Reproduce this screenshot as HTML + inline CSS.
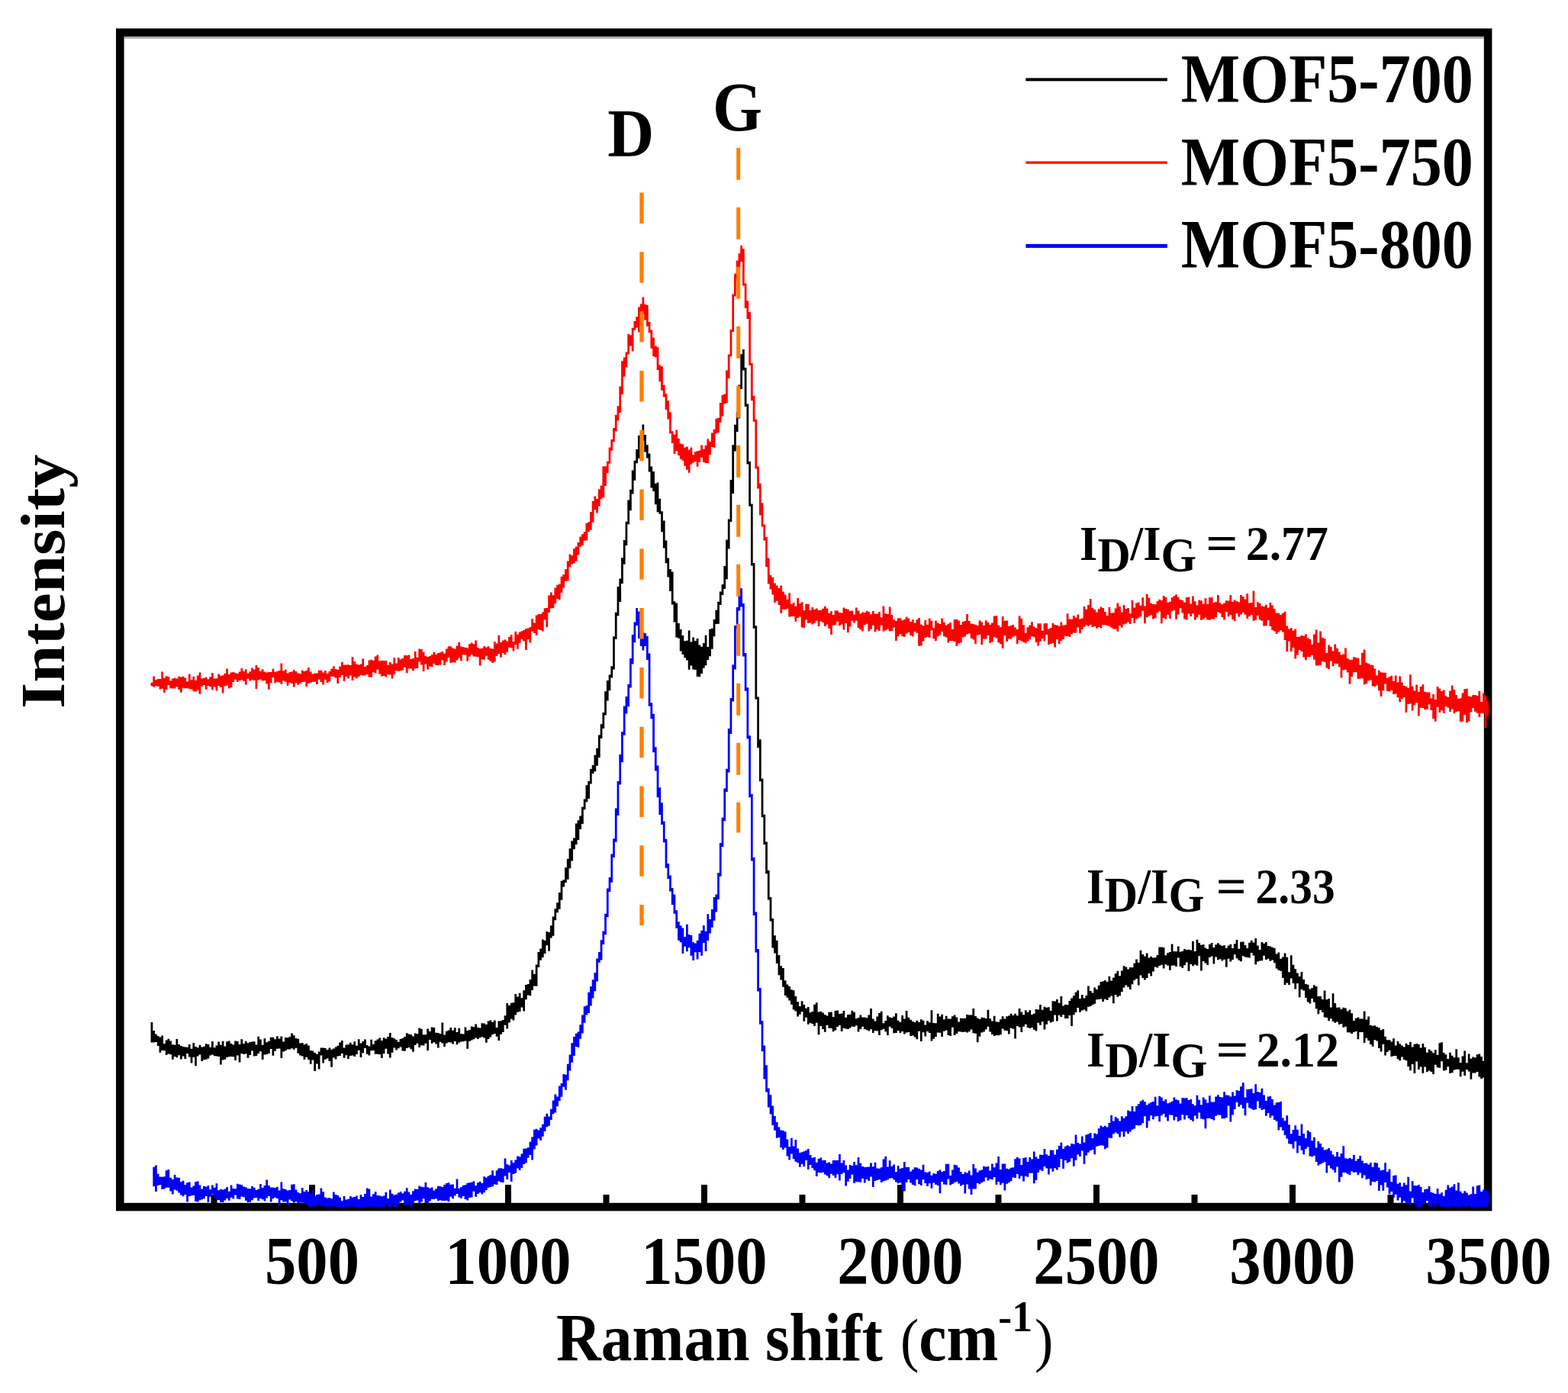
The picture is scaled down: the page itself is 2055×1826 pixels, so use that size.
<!DOCTYPE html><html><head><meta charset="utf-8"><title>Raman</title><style>html,body{margin:0;padding:0;background:#fff;width:2055px;height:1826px;overflow:hidden}</style></head><body><svg width="2055" height="1826" viewBox="0 0 2055 1826" style="display:block">
<rect x="0" y="0" width="2055" height="1826" fill="#fff"/>
<g style="font-family:'Liberation Serif','Times New Roman',serif;font-weight:bold" fill="#000">
<rect x="157.3" y="42.6" width="1792.8" height="1539.5" fill="none" stroke="#000" stroke-width="10.6"/>
<rect x="163" y="47.9" width="1782" height="2.8" fill="#aaa"/>
<rect x="405.0" y="1553" width="8" height="25" fill="#000"/>
<rect x="662.0" y="1553" width="8" height="25" fill="#000"/>
<rect x="919.0" y="1553" width="8" height="25" fill="#000"/>
<rect x="1176.0" y="1553" width="8" height="25" fill="#000"/>
<rect x="1433.0" y="1553" width="8" height="25" fill="#000"/>
<rect x="1690.0" y="1553" width="8" height="25" fill="#000"/>
<rect x="276.5" y="1566" width="8" height="12" fill="#000"/>
<rect x="533.5" y="1566" width="8" height="12" fill="#000"/>
<rect x="790.5" y="1566" width="8" height="12" fill="#000"/>
<rect x="1047.5" y="1566" width="8" height="12" fill="#000"/>
<rect x="1304.5" y="1566" width="8" height="12" fill="#000"/>
<rect x="1561.5" y="1566" width="8" height="12" fill="#000"/>
<rect x="1818.5" y="1566" width="8" height="12" fill="#000"/>
<defs><clipPath id="pc"><rect x="150" y="40" width="1803" height="1542"/></clipPath></defs><g clip-path="url(#pc)">
<path fill="#f00" d="M197.58 894.7h2.74v4.6h-2.74zM200.32 886.6h2.74v14.1h-2.74zM203.06 891.3h2.74v8.0h-2.74zM205.80 889.9h2.74v9.8h-2.74zM208.54 890.0h2.74v13.6h-2.74zM211.28 880.5h2.74v22.2h-2.74zM214.02 888.8h2.74v19.1h-2.74zM216.76 886.3h2.74v17.7h-2.74zM219.50 887.1h2.74v11.0h-2.74zM222.24 892.3h2.74v10.0h-2.74zM224.98 889.6h2.74v12.8h-2.74zM227.72 888.7h2.74v13.8h-2.74zM230.46 889.4h2.74v10.8h-2.74zM233.20 886.7h2.74v17.4h-2.74zM235.94 887.5h2.74v20.3h-2.74zM238.68 886.7h2.74v15.1h-2.74zM241.42 888.5h2.74v13.8h-2.74zM244.16 893.4h2.74v8.8h-2.74zM246.90 883.4h2.74v19.6h-2.74zM249.64 891.3h2.74v12.3h-2.74zM252.38 886.8h2.74v19.4h-2.74zM255.12 891.7h2.74v15.1h-2.74zM257.86 885.4h2.74v19.3h-2.74zM260.60 881.6h2.74v28.2h-2.74zM263.34 889.6h2.74v10.2h-2.74zM266.08 888.8h2.74v9.3h-2.74zM268.82 887.8h2.74v15.9h-2.74zM271.56 890.2h2.74v8.7h-2.74zM274.30 887.3h2.74v13.0h-2.74zM277.04 882.1h2.74v22.1h-2.74zM279.78 889.5h2.74v10.8h-2.74zM282.52 889.3h2.74v16.1h-2.74zM285.26 883.4h2.74v15.5h-2.74zM288.00 885.7h2.74v15.4h-2.74zM290.74 885.2h2.74v23.4h-2.74zM293.48 882.8h2.74v16.7h-2.74zM296.22 876.5h2.74v22.0h-2.74zM298.96 883.9h2.74v18.7h-2.74zM301.70 881.6h2.74v19.6h-2.74zM304.44 881.1h2.74v12.8h-2.74zM307.18 882.0h2.74v8.8h-2.74zM309.92 883.0h2.74v11.1h-2.74zM312.66 880.4h2.74v11.9h-2.74zM315.40 875.9h2.74v15.4h-2.74zM318.14 880.0h2.74v12.8h-2.74zM320.88 877.2h2.74v20.2h-2.74zM323.62 882.4h2.74v7.6h-2.74zM326.36 880.2h2.74v12.3h-2.74zM329.10 875.4h2.74v15.8h-2.74zM331.84 877.4h2.74v14.4h-2.74zM334.58 871.7h2.74v31.2h-2.74zM337.32 875.2h2.74v16.4h-2.74zM340.06 879.7h2.74v11.1h-2.74zM342.80 877.3h2.74v15.2h-2.74zM345.54 880.5h2.74v11.6h-2.74zM348.28 881.6h2.74v15.0h-2.74zM351.02 881.1h2.74v22.7h-2.74zM353.76 880.9h2.74v14.3h-2.74zM356.50 876.7h2.74v11.3h-2.74zM359.24 880.7h2.74v14.6h-2.74zM361.98 880.1h2.74v13.7h-2.74zM364.72 878.9h2.74v15.5h-2.74zM367.46 869.6h2.74v27.4h-2.74zM370.20 879.4h2.74v12.9h-2.74zM372.94 877.8h2.74v16.0h-2.74zM375.68 882.4h2.74v16.4h-2.74zM378.42 881.1h2.74v13.6h-2.74zM381.16 880.6h2.74v15.2h-2.74zM383.90 878.3h2.74v22.3h-2.74zM386.64 880.1h2.74v15.1h-2.74zM389.38 882.5h2.74v15.3h-2.74zM392.12 883.3h2.74v12.6h-2.74zM394.86 878.4h2.74v15.6h-2.74zM397.60 880.0h2.74v13.8h-2.74zM400.34 878.7h2.74v21.3h-2.74zM403.08 875.0h2.74v20.8h-2.74zM405.82 880.4h2.74v14.3h-2.74zM408.56 883.5h2.74v10.2h-2.74zM411.30 882.4h2.74v11.3h-2.74zM414.04 882.6h2.74v14.4h-2.74zM416.78 878.7h2.74v12.0h-2.74zM419.52 878.8h2.74v15.3h-2.74zM422.26 881.6h2.74v15.8h-2.74zM425.00 879.0h2.74v12.1h-2.74zM427.74 882.9h2.74v12.2h-2.74zM430.48 879.9h2.74v13.6h-2.74zM433.22 876.8h2.74v9.9h-2.74zM435.96 873.3h2.74v13.8h-2.74zM438.70 877.1h2.74v11.3h-2.74zM441.44 877.7h2.74v18.4h-2.74zM444.18 873.5h2.74v14.6h-2.74zM446.92 868.0h2.74v16.9h-2.74zM449.66 871.5h2.74v21.3h-2.74zM452.40 871.4h2.74v15.7h-2.74zM455.14 871.3h2.74v18.3h-2.74zM457.88 872.1h2.74v13.3h-2.74zM460.62 861.0h2.74v31.1h-2.74zM463.36 866.9h2.74v20.5h-2.74zM466.10 870.4h2.74v18.9h-2.74zM468.84 871.5h2.74v15.4h-2.74zM471.58 870.6h2.74v14.5h-2.74zM474.32 863.3h2.74v22.1h-2.74zM477.06 873.9h2.74v11.7h-2.74zM479.80 871.9h2.74v12.0h-2.74zM482.54 865.6h2.74v22.0h-2.74zM485.28 864.8h2.74v23.0h-2.74zM488.02 865.7h2.74v15.6h-2.74zM490.76 860.4h2.74v22.2h-2.74zM493.50 858.4h2.74v19.4h-2.74zM496.24 866.5h2.74v17.0h-2.74zM498.98 865.7h2.74v20.8h-2.74zM501.72 866.1h2.74v20.0h-2.74zM504.46 865.9h2.74v21.6h-2.74zM507.20 871.7h2.74v12.4h-2.74zM509.94 868.1h2.74v16.4h-2.74zM512.68 870.4h2.74v19.0h-2.74zM515.42 862.3h2.74v21.5h-2.74zM518.16 869.5h2.74v9.6h-2.74zM520.90 862.0h2.74v18.1h-2.74zM523.64 864.2h2.74v15.0h-2.74zM526.38 863.1h2.74v15.5h-2.74zM529.12 859.1h2.74v15.6h-2.74zM531.86 859.2h2.74v23.0h-2.74zM534.60 858.4h2.74v17.9h-2.74zM537.34 864.0h2.74v12.6h-2.74zM540.08 863.0h2.74v16.3h-2.74zM542.82 854.0h2.74v22.4h-2.74zM545.56 861.8h2.74v14.2h-2.74zM548.30 850.6h2.74v16.9h-2.74zM551.04 851.1h2.74v20.3h-2.74zM553.78 854.7h2.74v25.3h-2.74zM556.52 860.0h2.74v10.5h-2.74zM559.26 861.1h2.74v16.4h-2.74zM562.00 859.9h2.74v13.5h-2.74zM564.74 858.3h2.74v15.9h-2.74zM567.48 854.8h2.74v15.2h-2.74zM570.22 857.8h2.74v14.2h-2.74zM572.96 856.1h2.74v16.1h-2.74zM575.70 855.2h2.74v16.4h-2.74zM578.44 854.1h2.74v11.3h-2.74zM581.18 856.4h2.74v15.5h-2.74zM583.92 850.6h2.74v17.0h-2.74zM586.66 847.3h2.74v14.6h-2.74zM589.40 847.3h2.74v21.6h-2.74zM592.14 849.5h2.74v18.8h-2.74zM594.88 850.5h2.74v18.0h-2.74zM597.62 846.6h2.74v18.8h-2.74zM600.36 841.7h2.74v20.9h-2.74zM603.10 847.4h2.74v18.8h-2.74zM605.84 848.2h2.74v10.0h-2.74zM608.58 848.8h2.74v9.6h-2.74zM611.32 849.6h2.74v17.0h-2.74zM614.06 844.3h2.74v16.4h-2.74zM616.80 842.4h2.74v15.9h-2.74zM619.54 844.2h2.74v16.4h-2.74zM622.28 839.6h2.74v21.1h-2.74zM625.02 848.9h2.74v12.3h-2.74zM627.76 850.3h2.74v22.2h-2.74zM630.50 849.7h2.74v14.9h-2.74zM633.24 846.9h2.74v17.8h-2.74zM635.98 848.5h2.74v11.3h-2.74zM638.72 847.2h2.74v17.6h-2.74zM641.46 850.0h2.74v16.8h-2.74zM644.20 850.6h2.74v18.4h-2.74zM646.94 840.9h2.74v26.7h-2.74zM649.68 843.4h2.74v16.5h-2.74zM652.42 832.7h2.74v24.6h-2.74zM655.16 841.9h2.74v19.8h-2.74zM657.90 839.4h2.74v16.7h-2.74zM660.64 838.6h2.74v19.6h-2.74zM663.38 840.4h2.74v14.7h-2.74zM666.12 834.7h2.74v14.0h-2.74zM668.86 832.0h2.74v17.2h-2.74zM671.60 841.0h2.74v12.4h-2.74zM674.34 827.7h2.74v17.3h-2.74zM677.08 831.7h2.74v19.0h-2.74zM679.82 828.6h2.74v14.5h-2.74zM682.56 827.3h2.74v10.7h-2.74zM685.30 826.0h2.74v14.4h-2.74zM688.04 824.0h2.74v27.9h-2.74zM690.78 823.4h2.74v14.9h-2.74zM693.52 822.1h2.74v20.5h-2.74zM696.26 811.1h2.74v16.6h-2.74zM699.00 816.6h2.74v13.5h-2.74zM701.74 806.6h2.74v26.1h-2.74zM704.48 804.9h2.74v20.4h-2.74zM707.22 804.9h2.74v21.1h-2.74zM709.96 802.5h2.74v25.0h-2.74zM712.70 797.3h2.74v15.3h-2.74zM715.44 797.1h2.74v24.9h-2.74zM718.18 780.6h2.74v22.5h-2.74zM720.92 776.4h2.74v21.0h-2.74zM723.66 780.2h2.74v17.1h-2.74zM726.40 770.6h2.74v20.6h-2.74zM729.14 766.7h2.74v18.4h-2.74zM731.88 765.5h2.74v20.8h-2.74zM734.62 755.8h2.74v21.1h-2.74zM737.36 753.0h2.74v17.4h-2.74zM740.10 746.0h2.74v15.8h-2.74zM742.84 735.6h2.74v25.8h-2.74zM745.58 726.6h2.74v16.7h-2.74zM748.32 728.1h2.74v11.5h-2.74zM751.06 718.9h2.74v19.7h-2.74zM753.80 716.4h2.74v19.4h-2.74zM756.54 711.0h2.74v16.4h-2.74zM759.28 703.5h2.74v13.2h-2.74zM762.02 700.2h2.74v14.8h-2.74zM764.76 696.9h2.74v11.9h-2.74zM767.50 685.8h2.74v22.8h-2.74zM770.24 684.3h2.74v13.0h-2.74zM772.98 670.9h2.74v23.9h-2.74zM775.72 656.8h2.74v28.0h-2.74zM778.46 650.6h2.74v17.7h-2.74zM781.20 653.9h2.74v18.6h-2.74zM783.94 641.3h2.74v22.2h-2.74zM786.68 636.6h2.74v17.6h-2.74zM789.42 611.2h2.74v40.9h-2.74zM792.16 611.3h2.74v25.8h-2.74zM794.90 604.7h2.74v15.4h-2.74zM797.64 586.4h2.74v21.3h-2.74zM800.38 576.0h2.74v14.8h-2.74zM803.12 561.0h2.74v18.3h-2.74zM805.86 543.7h2.74v21.8h-2.74zM808.60 532.3h2.74v19.3h-2.74zM811.34 506.4h2.74v34.5h-2.74zM814.08 473.2h2.74v43.9h-2.74zM816.82 468.5h2.74v25.3h-2.74zM819.56 461.5h2.74v20.1h-2.74zM822.30 437.8h2.74v26.8h-2.74zM825.04 439.2h2.74v14.3h-2.74zM827.78 429.8h2.74v30.7h-2.74zM830.52 421.0h2.74v11.8h-2.74zM833.26 415.2h2.74v14.3h-2.74zM836.00 402.5h2.74v32.9h-2.74zM838.74 398.4h2.74v22.8h-2.74zM841.48 389.5h2.74v22.3h-2.74zM844.22 398.9h2.74v20.7h-2.74zM846.96 400.0h2.74v27.8h-2.74zM849.70 421.9h2.74v14.3h-2.74zM852.44 432.6h2.74v24.1h-2.74zM855.18 442.4h2.74v24.9h-2.74zM857.92 453.5h2.74v14.7h-2.74zM860.66 455.1h2.74v29.8h-2.74zM863.40 478.6h2.74v21.6h-2.74zM866.14 480.3h2.74v31.5h-2.74zM868.88 504.6h2.74v16.0h-2.74zM871.62 515.9h2.74v21.4h-2.74zM874.36 525.0h2.74v24.4h-2.74zM877.10 540.2h2.74v28.0h-2.74zM879.84 565.2h2.74v15.7h-2.74zM882.58 569.4h2.74v25.7h-2.74zM885.32 563.4h2.74v27.8h-2.74zM888.06 574.8h2.74v22.3h-2.74zM890.80 581.5h2.74v20.2h-2.74zM893.54 582.2h2.74v21.6h-2.74zM896.28 586.6h2.74v24.1h-2.74zM899.02 585.6h2.74v30.2h-2.74zM901.76 589.6h2.74v30.2h-2.74zM904.50 586.5h2.74v22.2h-2.74zM907.24 596.2h2.74v10.4h-2.74zM909.98 592.1h2.74v13.0h-2.74zM912.72 591.2h2.74v20.5h-2.74zM915.46 590.4h2.74v15.3h-2.74zM918.20 583.4h2.74v16.3h-2.74zM920.94 588.7h2.74v17.4h-2.74zM923.68 583.7h2.74v23.3h-2.74zM926.42 575.5h2.74v31.6h-2.74zM929.16 578.7h2.74v17.2h-2.74zM931.90 567.5h2.74v18.4h-2.74zM934.64 562.8h2.74v23.9h-2.74zM937.38 548.7h2.74v19.6h-2.74zM940.12 547.7h2.74v19.2h-2.74zM942.86 528.0h2.74v25.8h-2.74zM945.60 517.7h2.74v28.0h-2.74zM948.34 516.5h2.74v13.0h-2.74zM951.08 485.5h2.74v42.7h-2.74zM953.82 464.6h2.74v31.4h-2.74zM956.56 432.1h2.74v35.5h-2.74zM959.30 385.5h2.74v49.6h-2.74zM962.04 358.8h2.74v29.7h-2.74zM964.78 341.5h2.74v24.8h-2.74zM967.52 332.3h2.74v19.6h-2.74zM970.26 321.8h2.74v21.5h-2.74zM973.00 325.9h2.74v48.6h-2.74zM975.74 371.5h2.74v32.6h-2.74zM978.48 394.2h2.74v23.8h-2.74zM981.22 409.0h2.74v70.0h-2.74zM983.96 476.1h2.74v49.2h-2.74zM986.70 518.7h2.74v34.0h-2.74zM989.44 549.7h2.74v64.9h-2.74zM992.18 611.6h2.74v29.0h-2.74zM994.92 633.6h2.74v41.7h-2.74zM997.66 659.3h2.74v31.3h-2.74zM1000.40 687.6h2.74v20.9h-2.74zM1003.14 704.0h2.74v39.3h-2.74zM1005.88 731.4h2.74v34.1h-2.74zM1008.62 753.7h2.74v18.9h-2.74zM1011.36 756.7h2.74v22.9h-2.74zM1014.10 764.6h2.74v25.4h-2.74zM1016.84 767.5h2.74v20.2h-2.74zM1019.58 771.0h2.74v22.1h-2.74zM1022.32 767.5h2.74v36.2h-2.74zM1025.06 775.6h2.74v23.5h-2.74zM1027.80 779.5h2.74v19.6h-2.74zM1030.54 785.7h2.74v12.0h-2.74zM1033.28 777.3h2.74v31.1h-2.74zM1036.02 792.1h2.74v15.9h-2.74zM1038.76 789.9h2.74v17.8h-2.74zM1041.50 794.7h2.74v20.1h-2.74zM1044.24 784.1h2.74v25.8h-2.74zM1046.98 791.1h2.74v17.5h-2.74zM1049.72 789.2h2.74v33.4h-2.74zM1052.46 800.0h2.74v23.0h-2.74zM1055.20 791.8h2.74v20.7h-2.74zM1057.94 791.8h2.74v25.0h-2.74zM1060.68 800.1h2.74v16.5h-2.74zM1063.42 795.9h2.74v22.5h-2.74zM1066.16 798.8h2.74v17.9h-2.74zM1068.90 797.4h2.74v16.4h-2.74zM1071.64 799.9h2.74v21.1h-2.74zM1074.38 799.8h2.74v14.6h-2.74zM1077.12 797.8h2.74v18.2h-2.74zM1079.86 794.8h2.74v26.1h-2.74zM1082.60 797.4h2.74v21.3h-2.74zM1085.34 803.8h2.74v20.1h-2.74zM1088.08 801.3h2.74v30.4h-2.74zM1090.82 805.9h2.74v13.9h-2.74zM1093.56 800.3h2.74v18.7h-2.74zM1096.30 800.6h2.74v14.1h-2.74zM1099.04 802.9h2.74v17.3h-2.74zM1101.78 803.5h2.74v15.0h-2.74zM1104.52 796.5h2.74v28.9h-2.74zM1107.26 797.9h2.74v19.2h-2.74zM1110.00 798.7h2.74v30.6h-2.74zM1112.74 801.0h2.74v20.4h-2.74zM1115.48 800.5h2.74v13.2h-2.74zM1118.22 805.5h2.74v11.0h-2.74zM1120.96 796.6h2.74v17.2h-2.74zM1123.70 800.6h2.74v22.5h-2.74zM1126.44 804.6h2.74v20.6h-2.74zM1129.18 802.6h2.74v25.0h-2.74zM1131.92 803.1h2.74v16.2h-2.74zM1134.66 800.7h2.74v17.1h-2.74zM1137.40 801.9h2.74v25.7h-2.74zM1140.14 805.3h2.74v19.4h-2.74zM1142.88 801.1h2.74v18.6h-2.74zM1145.62 804.5h2.74v23.8h-2.74zM1148.36 804.6h2.74v20.7h-2.74zM1151.10 802.1h2.74v24.8h-2.74zM1153.84 809.2h2.74v10.4h-2.74zM1156.58 794.5h2.74v33.1h-2.74zM1159.32 804.3h2.74v22.0h-2.74zM1162.06 804.9h2.74v19.9h-2.74zM1164.80 795.5h2.74v32.1h-2.74zM1167.54 806.0h2.74v21.1h-2.74zM1170.28 812.3h2.74v10.5h-2.74zM1173.02 814.1h2.74v25.8h-2.74zM1175.76 810.4h2.74v23.9h-2.74zM1178.50 810.2h2.74v21.1h-2.74zM1181.24 813.2h2.74v21.0h-2.74zM1183.98 812.0h2.74v22.8h-2.74zM1186.72 808.5h2.74v22.0h-2.74zM1189.46 810.4h2.74v18.5h-2.74zM1192.20 815.1h2.74v17.7h-2.74zM1194.94 812.3h2.74v21.9h-2.74zM1197.68 816.4h2.74v11.6h-2.74zM1200.42 812.3h2.74v17.4h-2.74zM1203.16 810.1h2.74v36.6h-2.74zM1205.90 818.5h2.74v28.1h-2.74zM1208.64 820.2h2.74v20.3h-2.74zM1211.38 812.7h2.74v23.2h-2.74zM1214.12 818.7h2.74v16.0h-2.74zM1216.86 810.4h2.74v25.6h-2.74zM1219.60 813.7h2.74v12.5h-2.74zM1222.34 823.2h2.74v14.0h-2.74zM1225.08 813.4h2.74v26.9h-2.74zM1227.82 816.6h2.74v17.7h-2.74zM1230.56 818.0h2.74v14.5h-2.74zM1233.30 810.6h2.74v17.5h-2.74zM1236.04 815.8h2.74v18.5h-2.74zM1238.78 819.6h2.74v15.9h-2.74zM1241.52 817.8h2.74v24.7h-2.74zM1244.26 816.0h2.74v23.9h-2.74zM1247.00 824.8h2.74v15.2h-2.74zM1249.74 812.0h2.74v29.3h-2.74zM1252.48 811.7h2.74v35.4h-2.74zM1255.22 813.5h2.74v29.9h-2.74zM1257.96 818.9h2.74v23.6h-2.74zM1260.70 815.1h2.74v20.2h-2.74zM1263.44 813.9h2.74v20.5h-2.74zM1266.18 805.1h2.74v26.4h-2.74zM1268.92 813.9h2.74v16.6h-2.74zM1271.66 817.5h2.74v19.3h-2.74zM1274.40 818.1h2.74v20.5h-2.74zM1277.14 818.8h2.74v25.3h-2.74zM1279.88 819.9h2.74v12.5h-2.74zM1282.62 813.2h2.74v18.6h-2.74zM1285.36 815.5h2.74v29.6h-2.74zM1288.10 819.7h2.74v17.8h-2.74zM1290.84 813.2h2.74v24.3h-2.74zM1293.58 815.8h2.74v17.0h-2.74zM1296.32 818.7h2.74v24.0h-2.74zM1299.06 816.4h2.74v25.1h-2.74zM1301.80 807.5h2.74v27.4h-2.74zM1304.54 807.1h2.74v29.5h-2.74zM1307.28 819.4h2.74v22.8h-2.74zM1310.02 822.0h2.74v22.3h-2.74zM1312.76 807.9h2.74v42.1h-2.74zM1315.50 813.7h2.74v19.4h-2.74zM1318.24 813.4h2.74v27.6h-2.74zM1320.98 820.7h2.74v16.7h-2.74zM1323.72 820.1h2.74v17.3h-2.74zM1326.46 819.1h2.74v15.7h-2.74zM1329.20 822.6h2.74v11.0h-2.74zM1331.94 825.1h2.74v18.9h-2.74zM1334.68 807.2h2.74v31.8h-2.74zM1337.42 810.8h2.74v29.6h-2.74zM1340.16 819.3h2.74v22.5h-2.74zM1342.90 829.8h2.74v13.5h-2.74zM1345.64 822.2h2.74v18.6h-2.74zM1348.38 819.6h2.74v18.7h-2.74zM1351.12 815.2h2.74v19.0h-2.74zM1353.86 821.4h2.74v13.9h-2.74zM1356.60 823.2h2.74v18.8h-2.74zM1359.34 817.3h2.74v29.1h-2.74zM1362.08 817.3h2.74v23.5h-2.74zM1364.82 826.8h2.74v10.3h-2.74zM1367.56 817.3h2.74v23.2h-2.74zM1370.30 816.9h2.74v15.2h-2.74zM1373.04 824.4h2.74v20.5h-2.74zM1375.78 822.9h2.74v21.1h-2.74zM1378.52 816.8h2.74v26.3h-2.74zM1381.26 819.0h2.74v29.6h-2.74zM1384.00 819.4h2.74v18.5h-2.74zM1386.74 820.8h2.74v23.5h-2.74zM1389.48 815.6h2.74v24.3h-2.74zM1392.22 819.7h2.74v18.3h-2.74zM1394.96 819.3h2.74v14.4h-2.74zM1397.70 804.3h2.74v29.6h-2.74zM1400.44 811.5h2.74v23.5h-2.74zM1403.18 811.8h2.74v19.4h-2.74zM1405.92 806.9h2.74v22.5h-2.74zM1408.66 809.6h2.74v20.0h-2.74zM1411.40 805.4h2.74v17.1h-2.74zM1414.14 811.6h2.74v18.6h-2.74zM1416.88 810.4h2.74v14.6h-2.74zM1419.62 795.1h2.74v26.7h-2.74zM1422.36 798.8h2.74v20.6h-2.74zM1425.10 793.0h2.74v27.7h-2.74zM1427.84 785.1h2.74v34.0h-2.74zM1430.58 797.0h2.74v24.9h-2.74zM1433.32 798.9h2.74v22.2h-2.74zM1436.06 802.5h2.74v21.3h-2.74zM1438.80 798.2h2.74v23.8h-2.74zM1441.54 795.6h2.74v27.9h-2.74zM1444.28 796.9h2.74v22.4h-2.74zM1447.02 802.0h2.74v17.3h-2.74zM1449.76 807.2h2.74v12.9h-2.74zM1452.50 795.8h2.74v25.0h-2.74zM1455.24 803.4h2.74v19.3h-2.74zM1457.98 803.2h2.74v21.2h-2.74zM1460.72 797.6h2.74v27.0h-2.74zM1463.46 790.4h2.74v37.4h-2.74zM1466.20 795.3h2.74v24.7h-2.74zM1468.94 802.6h2.74v20.1h-2.74zM1471.68 793.0h2.74v25.5h-2.74zM1474.42 798.0h2.74v19.6h-2.74zM1477.16 797.1h2.74v18.4h-2.74zM1479.90 804.2h2.74v13.8h-2.74zM1482.64 786.8h2.74v23.3h-2.74zM1485.38 796.4h2.74v20.7h-2.74zM1488.12 790.4h2.74v21.0h-2.74zM1490.86 789.5h2.74v20.2h-2.74zM1493.60 793.8h2.74v14.4h-2.74zM1496.34 783.3h2.74v17.5h-2.74zM1499.08 794.5h2.74v22.8h-2.74zM1501.82 778.7h2.74v30.5h-2.74zM1504.56 783.8h2.74v23.7h-2.74zM1507.30 790.8h2.74v15.4h-2.74zM1510.04 791.9h2.74v19.6h-2.74zM1512.78 792.3h2.74v18.0h-2.74zM1515.52 788.0h2.74v15.6h-2.74zM1518.26 785.7h2.74v15.5h-2.74zM1521.00 787.0h2.74v30.2h-2.74zM1523.74 780.9h2.74v29.0h-2.74zM1526.48 782.7h2.74v28.9h-2.74zM1529.22 789.8h2.74v16.0h-2.74zM1531.96 788.7h2.74v22.3h-2.74zM1534.70 783.3h2.74v18.0h-2.74zM1537.44 781.3h2.74v18.8h-2.74zM1540.18 779.2h2.74v32.5h-2.74zM1542.92 782.8h2.74v22.7h-2.74zM1545.66 786.2h2.74v11.0h-2.74zM1548.40 786.8h2.74v16.6h-2.74zM1551.14 789.4h2.74v22.2h-2.74zM1553.88 783.1h2.74v29.4h-2.74zM1556.62 782.5h2.74v22.1h-2.74zM1559.36 791.6h2.74v16.4h-2.74zM1562.10 781.6h2.74v22.7h-2.74zM1564.84 788.3h2.74v24.3h-2.74zM1567.58 793.2h2.74v16.4h-2.74zM1570.32 786.6h2.74v19.2h-2.74zM1573.06 787.2h2.74v25.8h-2.74zM1575.80 791.7h2.74v19.8h-2.74zM1578.54 784.1h2.74v25.4h-2.74zM1581.28 791.7h2.74v20.9h-2.74zM1584.02 783.2h2.74v29.5h-2.74zM1586.76 782.9h2.74v28.6h-2.74zM1589.50 790.0h2.74v21.4h-2.74zM1592.24 789.0h2.74v19.9h-2.74zM1594.98 779.9h2.74v22.3h-2.74zM1597.72 790.2h2.74v13.5h-2.74zM1600.46 792.3h2.74v16.7h-2.74zM1603.20 790.5h2.74v22.0h-2.74zM1605.94 787.2h2.74v14.8h-2.74zM1608.68 787.4h2.74v20.9h-2.74zM1611.42 780.1h2.74v25.8h-2.74zM1614.16 788.7h2.74v23.4h-2.74zM1616.90 786.2h2.74v27.9h-2.74zM1619.64 788.0h2.74v16.3h-2.74zM1622.38 789.2h2.74v19.2h-2.74zM1625.12 780.0h2.74v25.4h-2.74zM1627.86 781.9h2.74v20.9h-2.74zM1630.60 785.6h2.74v20.1h-2.74zM1633.34 778.1h2.74v32.6h-2.74zM1636.08 790.5h2.74v17.6h-2.74zM1638.82 790.1h2.74v16.0h-2.74zM1641.56 774.6h2.74v39.1h-2.74zM1644.30 796.1h2.74v16.6h-2.74zM1647.04 789.2h2.74v17.9h-2.74zM1649.78 790.7h2.74v21.9h-2.74zM1652.52 794.6h2.74v19.2h-2.74zM1655.26 795.0h2.74v25.4h-2.74zM1658.00 792.8h2.74v27.5h-2.74zM1660.74 796.7h2.74v16.3h-2.74zM1663.48 790.0h2.74v30.9h-2.74zM1666.22 793.5h2.74v32.6h-2.74zM1668.96 797.9h2.74v29.7h-2.74zM1671.70 803.4h2.74v27.7h-2.74zM1674.44 803.8h2.74v24.7h-2.74zM1677.18 806.0h2.74v20.3h-2.74zM1679.92 803.8h2.74v24.8h-2.74zM1682.66 801.7h2.74v37.4h-2.74zM1685.40 820.5h2.74v33.6h-2.74zM1688.14 824.6h2.74v15.8h-2.74zM1690.88 822.9h2.74v31.1h-2.74zM1693.62 826.7h2.74v22.4h-2.74zM1696.36 824.5h2.74v39.1h-2.74zM1699.10 834.9h2.74v23.5h-2.74zM1701.84 834.5h2.74v17.5h-2.74zM1704.58 832.7h2.74v21.4h-2.74zM1707.32 833.7h2.74v27.7h-2.74zM1710.06 831.3h2.74v34.0h-2.74zM1712.80 836.4h2.74v24.6h-2.74zM1715.54 837.8h2.74v23.1h-2.74zM1718.28 844.8h2.74v14.3h-2.74zM1721.02 831.5h2.74v33.3h-2.74zM1723.76 825.4h2.74v47.2h-2.74zM1726.50 842.6h2.74v29.9h-2.74zM1729.24 827.6h2.74v44.1h-2.74zM1731.98 835.8h2.74v31.3h-2.74zM1734.72 836.9h2.74v31.0h-2.74zM1737.46 856.1h2.74v19.5h-2.74zM1740.20 845.5h2.74v31.6h-2.74zM1742.94 847.8h2.74v18.6h-2.74zM1745.68 853.4h2.74v19.9h-2.74zM1748.42 844.5h2.74v25.3h-2.74zM1751.16 849.8h2.74v20.1h-2.74zM1753.90 854.7h2.74v19.6h-2.74zM1756.64 858.5h2.74v30.1h-2.74zM1759.38 857.5h2.74v21.0h-2.74zM1762.12 849.5h2.74v28.3h-2.74zM1764.86 863.1h2.74v18.4h-2.74zM1767.60 864.7h2.74v32.0h-2.74zM1770.34 864.7h2.74v22.3h-2.74zM1773.08 861.3h2.74v20.0h-2.74zM1775.82 862.0h2.74v19.3h-2.74zM1778.56 862.8h2.74v27.1h-2.74zM1781.30 871.4h2.74v18.2h-2.74zM1784.04 855.8h2.74v33.4h-2.74zM1786.78 851.6h2.74v45.7h-2.74zM1789.52 868.7h2.74v27.5h-2.74zM1792.26 869.7h2.74v22.5h-2.74zM1795.00 871.6h2.74v19.8h-2.74zM1797.74 871.9h2.74v27.5h-2.74zM1800.48 876.4h2.74v23.7h-2.74zM1803.22 885.2h2.74v12.7h-2.74zM1805.96 878.8h2.74v26.4h-2.74zM1808.70 881.3h2.74v31.7h-2.74zM1811.44 881.8h2.74v23.5h-2.74zM1814.18 881.7h2.74v14.9h-2.74zM1816.92 888.8h2.74v17.2h-2.74zM1819.66 886.9h2.74v19.5h-2.74zM1822.40 885.8h2.74v19.0h-2.74zM1825.14 892.8h2.74v17.1h-2.74zM1827.88 885.6h2.74v24.0h-2.74zM1830.62 894.4h2.74v19.9h-2.74zM1833.36 886.5h2.74v33.8h-2.74zM1836.10 894.6h2.74v21.4h-2.74zM1838.84 899.1h2.74v15.2h-2.74zM1841.58 899.8h2.74v34.3h-2.74zM1844.32 901.7h2.74v21.3h-2.74zM1847.06 884.3h2.74v38.2h-2.74zM1849.80 899.5h2.74v31.9h-2.74zM1852.54 905.5h2.74v18.8h-2.74zM1855.28 897.4h2.74v23.6h-2.74zM1858.02 907.1h2.74v31.3h-2.74zM1860.76 900.0h2.74v27.7h-2.74zM1863.50 897.2h2.74v30.7h-2.74zM1866.24 906.8h2.74v23.5h-2.74zM1868.98 907.5h2.74v22.3h-2.74zM1871.72 907.4h2.74v16.1h-2.74zM1874.46 915.3h2.74v15.8h-2.74zM1877.20 910.1h2.74v32.1h-2.74zM1879.94 916.9h2.74v28.9h-2.74zM1882.68 900.0h2.74v26.7h-2.74zM1885.42 902.4h2.74v31.7h-2.74zM1888.16 906.1h2.74v25.1h-2.74zM1890.90 904.5h2.74v30.4h-2.74zM1893.64 912.2h2.74v13.8h-2.74zM1896.38 913.7h2.74v13.7h-2.74zM1899.12 905.5h2.74v27.5h-2.74zM1901.86 898.6h2.74v30.8h-2.74zM1904.60 904.1h2.74v30.9h-2.74zM1907.34 911.0h2.74v22.1h-2.74zM1910.08 916.0h2.74v16.6h-2.74zM1912.82 915.2h2.74v30.8h-2.74zM1915.56 908.6h2.74v37.2h-2.74zM1918.30 903.3h2.74v33.6h-2.74zM1921.04 902.8h2.74v44.6h-2.74zM1923.78 912.5h2.74v33.1h-2.74zM1926.52 913.3h2.74v20.2h-2.74zM1929.26 910.9h2.74v17.4h-2.74zM1932.00 910.9h2.74v21.9h-2.74zM1934.74 911.9h2.74v22.8h-2.74zM1937.48 905.7h2.74v34.2h-2.74zM1940.22 919.9h2.74v14.9h-2.74zM1942.96 908.5h2.74v26.6h-2.74zM1945.70 912.2h2.74v41.8h-2.74zM1948.44 918.4h2.74v20.1h-2.74z"/>
<path fill="#000" d="M197.58 1340.0h2.74v26.4h-2.74zM200.32 1350.9h2.74v15.6h-2.74zM203.06 1355.6h2.74v10.5h-2.74zM205.80 1358.0h2.74v13.0h-2.74zM208.54 1359.5h2.74v20.2h-2.74zM211.28 1357.4h2.74v19.5h-2.74zM214.02 1368.0h2.74v9.2h-2.74zM216.76 1363.5h2.74v19.4h-2.74zM219.50 1361.7h2.74v19.9h-2.74zM222.24 1364.6h2.74v17.6h-2.74zM224.98 1369.3h2.74v19.4h-2.74zM227.72 1369.8h2.74v15.3h-2.74zM230.46 1361.9h2.74v24.4h-2.74zM233.20 1369.1h2.74v14.1h-2.74zM235.94 1370.9h2.74v17.6h-2.74zM238.68 1372.0h2.74v12.5h-2.74zM241.42 1372.6h2.74v15.3h-2.74zM244.16 1372.8h2.74v8.2h-2.74zM246.90 1369.1h2.74v16.4h-2.74zM249.64 1374.8h2.74v18.7h-2.74zM252.38 1366.9h2.74v18.8h-2.74zM255.12 1372.1h2.74v25.2h-2.74zM257.86 1373.2h2.74v11.4h-2.74zM260.60 1369.8h2.74v12.7h-2.74zM263.34 1372.5h2.74v18.4h-2.74zM266.08 1371.7h2.74v17.5h-2.74zM268.82 1368.3h2.74v20.5h-2.74zM271.56 1369.0h2.74v18.5h-2.74zM274.30 1372.8h2.74v10.6h-2.74zM277.04 1364.9h2.74v17.7h-2.74zM279.78 1373.3h2.74v11.0h-2.74zM282.52 1370.6h2.74v14.0h-2.74zM285.26 1365.4h2.74v19.6h-2.74zM288.00 1369.8h2.74v25.8h-2.74zM290.74 1364.7h2.74v24.7h-2.74zM293.48 1371.5h2.74v17.3h-2.74zM296.22 1365.3h2.74v20.8h-2.74zM298.96 1364.6h2.74v20.7h-2.74zM301.70 1368.0h2.74v17.0h-2.74zM304.44 1369.5h2.74v15.7h-2.74zM307.18 1364.5h2.74v25.4h-2.74zM309.92 1365.0h2.74v18.6h-2.74zM312.66 1369.0h2.74v23.6h-2.74zM315.40 1362.3h2.74v18.8h-2.74zM318.14 1368.0h2.74v13.9h-2.74zM320.88 1364.7h2.74v16.6h-2.74zM323.62 1367.2h2.74v19.6h-2.74zM326.36 1366.1h2.74v17.0h-2.74zM329.10 1365.6h2.74v11.9h-2.74zM331.84 1365.2h2.74v19.4h-2.74zM334.58 1369.4h2.74v14.6h-2.74zM337.32 1358.7h2.74v22.3h-2.74zM340.06 1362.4h2.74v15.9h-2.74zM342.80 1369.8h2.74v19.3h-2.74zM345.54 1361.3h2.74v21.3h-2.74zM348.28 1366.2h2.74v15.7h-2.74zM351.02 1364.7h2.74v16.2h-2.74zM353.76 1359.8h2.74v15.3h-2.74zM356.50 1359.7h2.74v24.0h-2.74zM359.24 1362.3h2.74v15.4h-2.74zM361.98 1358.2h2.74v16.6h-2.74zM364.72 1361.6h2.74v12.8h-2.74zM367.46 1358.4h2.74v28.7h-2.74zM370.20 1365.5h2.74v13.0h-2.74zM372.94 1359.9h2.74v17.4h-2.74zM375.68 1360.3h2.74v15.3h-2.74zM378.42 1359.1h2.74v16.5h-2.74zM381.16 1354.6h2.74v19.6h-2.74zM383.90 1357.2h2.74v18.6h-2.74zM386.64 1360.9h2.74v12.9h-2.74zM389.38 1361.8h2.74v19.0h-2.74zM392.12 1367.5h2.74v15.9h-2.74zM394.86 1367.1h2.74v17.4h-2.74zM397.60 1369.2h2.74v19.8h-2.74zM400.34 1367.9h2.74v17.9h-2.74zM403.08 1370.5h2.74v18.4h-2.74zM405.82 1376.9h2.74v17.9h-2.74zM408.56 1377.6h2.74v11.8h-2.74zM411.30 1380.1h2.74v24.0h-2.74zM414.04 1381.8h2.74v12.8h-2.74zM416.78 1378.4h2.74v23.1h-2.74zM419.52 1373.4h2.74v10.2h-2.74zM422.26 1373.4h2.74v20.0h-2.74zM425.00 1374.0h2.74v14.7h-2.74zM427.74 1376.3h2.74v11.3h-2.74zM430.48 1373.4h2.74v17.6h-2.74zM433.22 1375.8h2.74v22.9h-2.74zM435.96 1374.5h2.74v12.1h-2.74zM438.70 1372.4h2.74v16.2h-2.74zM441.44 1370.8h2.74v13.7h-2.74zM444.18 1366.5h2.74v17.4h-2.74zM446.92 1364.1h2.74v16.8h-2.74zM449.66 1373.4h2.74v13.4h-2.74zM452.40 1369.5h2.74v13.8h-2.74zM455.14 1369.2h2.74v18.7h-2.74zM457.88 1366.7h2.74v17.2h-2.74zM460.62 1369.2h2.74v14.2h-2.74zM463.36 1365.3h2.74v19.6h-2.74zM466.10 1370.7h2.74v11.3h-2.74zM468.84 1362.3h2.74v14.4h-2.74zM471.58 1367.4h2.74v18.5h-2.74zM474.32 1365.1h2.74v15.1h-2.74zM477.06 1362.6h2.74v11.5h-2.74zM479.80 1369.9h2.74v11.8h-2.74zM482.54 1371.5h2.74v12.0h-2.74zM485.28 1362.7h2.74v14.5h-2.74zM488.02 1368.7h2.74v8.4h-2.74zM490.76 1364.2h2.74v17.5h-2.74zM493.50 1362.5h2.74v19.2h-2.74zM496.24 1360.4h2.74v21.8h-2.74zM498.98 1364.0h2.74v23.1h-2.74zM501.72 1360.2h2.74v21.1h-2.74zM504.46 1361.5h2.74v13.3h-2.74zM507.20 1359.1h2.74v22.5h-2.74zM509.94 1353.9h2.74v32.7h-2.74zM512.68 1360.1h2.74v19.7h-2.74zM515.42 1361.2h2.74v12.3h-2.74zM518.16 1363.0h2.74v13.6h-2.74zM520.90 1365.8h2.74v8.5h-2.74zM523.64 1362.0h2.74v10.6h-2.74zM526.38 1360.9h2.74v16.6h-2.74zM529.12 1358.9h2.74v18.9h-2.74zM531.86 1354.3h2.74v19.6h-2.74zM534.60 1355.4h2.74v17.7h-2.74zM537.34 1356.3h2.74v18.9h-2.74zM540.08 1358.6h2.74v20.1h-2.74zM542.82 1354.6h2.74v15.3h-2.74zM545.56 1355.3h2.74v12.5h-2.74zM548.30 1347.5h2.74v25.5h-2.74zM551.04 1348.7h2.74v21.5h-2.74zM553.78 1356.3h2.74v14.2h-2.74zM556.52 1356.3h2.74v11.4h-2.74zM559.26 1348.6h2.74v28.5h-2.74zM562.00 1352.1h2.74v10.8h-2.74zM564.74 1346.5h2.74v21.2h-2.74zM567.48 1346.9h2.74v19.3h-2.74zM570.22 1353.7h2.74v14.7h-2.74zM572.96 1354.1h2.74v19.4h-2.74zM575.70 1355.2h2.74v10.5h-2.74zM578.44 1340.6h2.74v26.9h-2.74zM581.18 1356.6h2.74v15.5h-2.74zM583.92 1351.7h2.74v15.9h-2.74zM586.66 1350.4h2.74v15.8h-2.74zM589.40 1346.9h2.74v19.5h-2.74zM592.14 1350.8h2.74v17.8h-2.74zM594.88 1347.2h2.74v17.8h-2.74zM597.62 1352.9h2.74v16.4h-2.74zM600.36 1347.8h2.74v19.0h-2.74zM603.10 1354.9h2.74v10.6h-2.74zM605.84 1355.4h2.74v9.8h-2.74zM608.58 1346.6h2.74v17.9h-2.74zM611.32 1351.0h2.74v23.7h-2.74zM614.06 1349.9h2.74v15.0h-2.74zM616.80 1345.4h2.74v18.0h-2.74zM619.54 1346.3h2.74v15.9h-2.74zM622.28 1342.6h2.74v17.8h-2.74zM625.02 1346.7h2.74v15.4h-2.74zM627.76 1347.6h2.74v12.6h-2.74zM630.50 1341.2h2.74v18.0h-2.74zM633.24 1341.6h2.74v19.0h-2.74zM635.98 1343.1h2.74v23.7h-2.74zM638.72 1338.5h2.74v23.5h-2.74zM641.46 1337.5h2.74v21.9h-2.74zM644.20 1339.8h2.74v16.5h-2.74zM646.94 1337.6h2.74v17.5h-2.74zM649.68 1346.9h2.74v11.8h-2.74zM652.42 1338.6h2.74v25.4h-2.74zM655.16 1338.2h2.74v17.9h-2.74zM657.90 1337.1h2.74v16.0h-2.74zM660.64 1331.3h2.74v12.5h-2.74zM663.38 1315.0h2.74v33.6h-2.74zM666.12 1318.0h2.74v22.5h-2.74zM668.86 1314.8h2.74v21.0h-2.74zM671.60 1314.3h2.74v23.3h-2.74zM674.34 1303.1h2.74v27.5h-2.74zM677.08 1306.4h2.74v20.4h-2.74zM679.82 1301.8h2.74v24.1h-2.74zM682.56 1308.3h2.74v12.1h-2.74zM685.30 1298.2h2.74v27.3h-2.74zM688.04 1291.0h2.74v19.3h-2.74zM690.78 1290.0h2.74v14.5h-2.74zM693.52 1283.9h2.74v21.3h-2.74zM696.26 1271.5h2.74v26.6h-2.74zM699.00 1276.7h2.74v15.9h-2.74zM701.74 1264.6h2.74v28.1h-2.74zM704.48 1247.9h2.74v20.1h-2.74zM707.22 1243.6h2.74v15.2h-2.74zM709.96 1231.6h2.74v23.4h-2.74zM712.70 1232.7h2.74v17.3h-2.74zM715.44 1221.1h2.74v18.1h-2.74zM718.18 1222.1h2.74v24.6h-2.74zM720.92 1213.3h2.74v16.1h-2.74zM723.66 1201.4h2.74v25.4h-2.74zM726.40 1191.2h2.74v15.1h-2.74zM729.14 1183.3h2.74v13.0h-2.74zM731.88 1169.9h2.74v21.8h-2.74zM734.62 1154.8h2.74v25.0h-2.74zM737.36 1153.3h2.74v9.1h-2.74zM740.10 1137.2h2.74v19.8h-2.74zM742.84 1125.8h2.74v27.0h-2.74zM745.58 1112.3h2.74v25.9h-2.74zM748.32 1102.2h2.74v26.2h-2.74zM751.06 1098.6h2.74v14.7h-2.74zM753.80 1079.5h2.74v27.4h-2.74zM756.54 1075.2h2.74v25.7h-2.74zM759.28 1069.5h2.74v17.6h-2.74zM762.02 1057.8h2.74v22.3h-2.74zM764.76 1047.6h2.74v13.6h-2.74zM767.50 1029.3h2.74v21.9h-2.74zM770.24 1023.9h2.74v23.0h-2.74zM772.98 1008.0h2.74v19.5h-2.74zM775.72 1002.9h2.74v11.0h-2.74zM778.46 989.7h2.74v21.5h-2.74zM781.20 980.7h2.74v23.1h-2.74zM783.94 963.6h2.74v29.5h-2.74zM786.68 949.2h2.74v18.8h-2.74zM789.42 934.0h2.74v21.1h-2.74zM792.16 906.2h2.74v31.3h-2.74zM794.90 892.1h2.74v26.5h-2.74zM797.64 884.5h2.74v20.8h-2.74zM800.38 873.3h2.74v15.3h-2.74zM803.12 834.2h2.74v43.4h-2.74zM805.86 802.8h2.74v34.9h-2.74zM808.60 768.9h2.74v38.3h-2.74zM811.34 758.4h2.74v30.5h-2.74zM814.08 731.0h2.74v33.9h-2.74zM816.82 708.1h2.74v31.6h-2.74zM819.56 683.8h2.74v31.2h-2.74zM822.30 655.5h2.74v31.8h-2.74zM825.04 641.8h2.74v27.4h-2.74zM827.78 616.6h2.74v31.0h-2.74zM830.52 603.8h2.74v26.0h-2.74zM833.26 588.9h2.74v18.4h-2.74zM836.00 570.8h2.74v30.2h-2.74zM838.74 571.1h2.74v12.8h-2.74zM841.48 556.5h2.74v21.3h-2.74zM844.22 569.9h2.74v22.5h-2.74zM846.96 583.2h2.74v17.4h-2.74zM849.70 594.5h2.74v24.0h-2.74zM852.44 611.4h2.74v28.1h-2.74zM855.18 617.9h2.74v26.2h-2.74zM857.92 633.8h2.74v27.5h-2.74zM860.66 632.4h2.74v38.8h-2.74zM863.40 653.7h2.74v20.1h-2.74zM866.14 670.3h2.74v26.9h-2.74zM868.88 682.5h2.74v35.9h-2.74zM871.62 708.4h2.74v29.8h-2.74zM874.36 731.4h2.74v25.1h-2.74zM877.10 746.0h2.74v29.1h-2.74zM879.84 749.5h2.74v43.0h-2.74zM882.58 788.2h2.74v27.4h-2.74zM885.32 790.5h2.74v44.9h-2.74zM888.06 817.1h2.74v19.6h-2.74zM890.80 825.1h2.74v28.4h-2.74zM893.54 833.1h2.74v25.0h-2.74zM896.28 840.2h2.74v22.0h-2.74zM899.02 839.7h2.74v25.8h-2.74zM901.76 826.4h2.74v51.3h-2.74zM904.50 841.4h2.74v31.0h-2.74zM907.24 835.4h2.74v42.0h-2.74zM909.98 840.2h2.74v37.9h-2.74zM912.72 837.0h2.74v50.1h-2.74zM915.46 845.4h2.74v41.8h-2.74zM918.20 847.7h2.74v35.2h-2.74zM920.94 843.0h2.74v32.8h-2.74zM923.68 832.8h2.74v39.5h-2.74zM926.42 848.1h2.74v17.0h-2.74zM929.16 824.8h2.74v35.5h-2.74zM931.90 823.7h2.74v27.1h-2.74zM934.64 811.9h2.74v22.4h-2.74zM937.38 799.8h2.74v18.2h-2.74zM940.12 788.7h2.74v29.0h-2.74zM942.86 775.6h2.74v17.5h-2.74zM945.60 765.9h2.74v14.2h-2.74zM948.34 742.1h2.74v30.0h-2.74zM951.08 707.5h2.74v51.8h-2.74zM953.82 680.4h2.74v39.2h-2.74zM956.56 628.9h2.74v55.0h-2.74zM959.30 583.2h2.74v63.7h-2.74zM962.04 556.7h2.74v34.9h-2.74zM964.78 539.8h2.74v26.3h-2.74zM967.52 504.6h2.74v43.8h-2.74zM970.26 464.3h2.74v45.6h-2.74zM973.00 457.9h2.74v27.7h-2.74zM975.74 482.1h2.74v50.9h-2.74zM978.48 529.5h2.74v78.9h-2.74zM981.22 604.9h2.74v58.9h-2.74zM983.96 660.4h2.74v81.2h-2.74zM986.70 738.0h2.74v85.8h-2.74zM989.44 820.3h2.74v96.5h-2.74zM992.18 913.4h2.74v66.8h-2.74zM994.92 969.3h2.74v54.9h-2.74zM997.66 1020.7h2.74v50.6h-2.74zM1000.40 1067.8h2.74v39.3h-2.74zM1003.14 1103.6h2.74v41.7h-2.74zM1005.88 1140.9h2.74v38.5h-2.74zM1008.62 1176.0h2.74v31.4h-2.74zM1011.36 1203.9h2.74v38.6h-2.74zM1014.10 1226.3h2.74v23.3h-2.74zM1016.84 1232.8h2.74v30.1h-2.74zM1019.58 1252.0h2.74v26.2h-2.74zM1022.32 1266.2h2.74v18.2h-2.74zM1025.06 1269.0h2.74v24.7h-2.74zM1027.80 1285.3h2.74v19.8h-2.74zM1030.54 1290.4h2.74v17.3h-2.74zM1033.28 1292.9h2.74v18.7h-2.74zM1036.02 1297.2h2.74v19.6h-2.74zM1038.76 1298.3h2.74v25.3h-2.74zM1041.50 1306.0h2.74v19.5h-2.74zM1044.24 1313.2h2.74v19.2h-2.74zM1046.98 1318.9h2.74v10.8h-2.74zM1049.72 1312.2h2.74v14.1h-2.74zM1052.46 1317.1h2.74v21.6h-2.74zM1055.20 1321.8h2.74v11.9h-2.74zM1057.94 1319.9h2.74v22.8h-2.74zM1060.68 1327.2h2.74v13.9h-2.74zM1063.42 1325.9h2.74v16.4h-2.74zM1066.16 1316.7h2.74v28.4h-2.74zM1068.90 1314.2h2.74v26.5h-2.74zM1071.64 1326.4h2.74v29.9h-2.74zM1074.38 1325.7h2.74v19.3h-2.74zM1077.12 1327.6h2.74v21.4h-2.74zM1079.86 1330.1h2.74v22.6h-2.74zM1082.60 1331.4h2.74v12.4h-2.74zM1085.34 1326.7h2.74v21.0h-2.74zM1088.08 1326.4h2.74v21.7h-2.74zM1090.82 1333.1h2.74v19.2h-2.74zM1093.56 1325.0h2.74v25.5h-2.74zM1096.30 1324.4h2.74v21.6h-2.74zM1099.04 1329.1h2.74v15.0h-2.74zM1101.78 1328.4h2.74v23.7h-2.74zM1104.52 1325.0h2.74v22.7h-2.74zM1107.26 1333.7h2.74v14.9h-2.74zM1110.00 1330.1h2.74v18.8h-2.74zM1112.74 1329.8h2.74v17.8h-2.74zM1115.48 1324.7h2.74v20.8h-2.74zM1118.22 1326.7h2.74v19.4h-2.74zM1120.96 1335.2h2.74v9.1h-2.74zM1123.70 1334.1h2.74v18.3h-2.74zM1126.44 1330.6h2.74v18.4h-2.74zM1129.18 1333.4h2.74v12.4h-2.74zM1131.92 1333.5h2.74v15.5h-2.74zM1134.66 1334.2h2.74v16.0h-2.74zM1137.40 1330.6h2.74v20.9h-2.74zM1140.14 1321.9h2.74v27.4h-2.74zM1142.88 1335.4h2.74v18.6h-2.74zM1145.62 1338.4h2.74v12.8h-2.74zM1148.36 1332.4h2.74v19.0h-2.74zM1151.10 1328.0h2.74v28.9h-2.74zM1153.84 1325.8h2.74v24.5h-2.74zM1156.58 1341.3h2.74v7.4h-2.74zM1159.32 1338.1h2.74v14.2h-2.74zM1162.06 1331.3h2.74v25.8h-2.74zM1164.80 1333.4h2.74v12.4h-2.74zM1167.54 1334.3h2.74v13.8h-2.74zM1170.28 1332.6h2.74v21.6h-2.74zM1173.02 1328.3h2.74v25.8h-2.74zM1175.76 1337.7h2.74v13.4h-2.74zM1178.50 1339.8h2.74v14.2h-2.74zM1181.24 1331.0h2.74v20.9h-2.74zM1183.98 1335.6h2.74v19.9h-2.74zM1186.72 1324.9h2.74v28.6h-2.74zM1189.46 1333.8h2.74v19.2h-2.74zM1192.20 1336.7h2.74v21.2h-2.74zM1194.94 1339.0h2.74v18.4h-2.74zM1197.68 1340.1h2.74v19.4h-2.74zM1200.42 1337.7h2.74v24.6h-2.74zM1203.16 1339.9h2.74v11.9h-2.74zM1205.90 1336.3h2.74v28.6h-2.74zM1208.64 1337.8h2.74v15.5h-2.74zM1211.38 1343.6h2.74v14.9h-2.74zM1214.12 1338.2h2.74v13.7h-2.74zM1216.86 1340.2h2.74v13.7h-2.74zM1219.60 1324.2h2.74v40.3h-2.74zM1222.34 1340.9h2.74v20.8h-2.74zM1225.08 1341.2h2.74v17.7h-2.74zM1227.82 1328.7h2.74v24.8h-2.74zM1230.56 1332.4h2.74v21.4h-2.74zM1233.30 1329.7h2.74v29.4h-2.74zM1236.04 1336.3h2.74v15.5h-2.74zM1238.78 1331.8h2.74v18.8h-2.74zM1241.52 1335.5h2.74v21.5h-2.74zM1244.26 1335.6h2.74v22.4h-2.74zM1247.00 1332.2h2.74v14.6h-2.74zM1249.74 1330.5h2.74v26.4h-2.74zM1252.48 1333.4h2.74v21.5h-2.74zM1255.22 1339.5h2.74v12.7h-2.74zM1257.96 1334.8h2.74v17.8h-2.74zM1260.70 1334.9h2.74v18.1h-2.74zM1263.44 1334.8h2.74v17.8h-2.74zM1266.18 1330.0h2.74v23.6h-2.74zM1268.92 1330.6h2.74v21.7h-2.74zM1271.66 1330.5h2.74v18.9h-2.74zM1274.40 1321.9h2.74v32.3h-2.74zM1277.14 1332.1h2.74v22.6h-2.74zM1279.88 1334.5h2.74v31.7h-2.74zM1282.62 1336.0h2.74v22.8h-2.74zM1285.36 1333.7h2.74v19.7h-2.74zM1288.10 1334.0h2.74v18.5h-2.74zM1290.84 1335.0h2.74v14.4h-2.74zM1293.58 1323.8h2.74v21.9h-2.74zM1296.32 1335.2h2.74v17.3h-2.74zM1299.06 1338.6h2.74v17.3h-2.74zM1301.80 1331.8h2.74v26.3h-2.74zM1304.54 1339.3h2.74v17.6h-2.74zM1307.28 1339.8h2.74v17.4h-2.74zM1310.02 1336.2h2.74v20.0h-2.74zM1312.76 1332.2h2.74v16.3h-2.74zM1315.50 1335.6h2.74v15.1h-2.74zM1318.24 1332.2h2.74v19.1h-2.74zM1320.98 1331.5h2.74v24.1h-2.74zM1323.72 1328.7h2.74v19.1h-2.74zM1326.46 1330.9h2.74v17.8h-2.74zM1329.20 1328.8h2.74v32.8h-2.74zM1331.94 1331.3h2.74v13.7h-2.74zM1334.68 1322.1h2.74v24.3h-2.74zM1337.42 1326.4h2.74v26.5h-2.74zM1340.16 1330.3h2.74v15.4h-2.74zM1342.90 1324.2h2.74v18.5h-2.74zM1345.64 1327.0h2.74v19.9h-2.74zM1348.38 1324.2h2.74v23.9h-2.74zM1351.12 1330.0h2.74v16.9h-2.74zM1353.86 1328.8h2.74v20.9h-2.74zM1356.60 1322.9h2.74v28.6h-2.74zM1359.34 1323.6h2.74v17.1h-2.74zM1362.08 1316.9h2.74v26.9h-2.74zM1364.82 1323.8h2.74v15.4h-2.74zM1367.56 1319.7h2.74v29.7h-2.74zM1370.30 1320.8h2.74v21.9h-2.74zM1373.04 1320.3h2.74v17.7h-2.74zM1375.78 1325.0h2.74v15.6h-2.74zM1378.52 1312.2h2.74v27.1h-2.74zM1381.26 1312.6h2.74v17.9h-2.74zM1384.00 1310.1h2.74v28.5h-2.74zM1386.74 1314.8h2.74v16.0h-2.74zM1389.48 1305.9h2.74v27.1h-2.74zM1392.22 1318.5h2.74v11.4h-2.74zM1394.96 1316.7h2.74v18.3h-2.74zM1397.70 1317.3h2.74v17.6h-2.74zM1400.44 1311.9h2.74v19.1h-2.74zM1403.18 1308.5h2.74v36.4h-2.74zM1405.92 1305.2h2.74v25.0h-2.74zM1408.66 1300.7h2.74v26.2h-2.74zM1411.40 1298.2h2.74v22.7h-2.74zM1414.14 1308.9h2.74v17.9h-2.74zM1416.88 1304.0h2.74v20.4h-2.74zM1419.62 1308.4h2.74v15.2h-2.74zM1422.36 1305.0h2.74v20.6h-2.74zM1425.10 1292.6h2.74v27.1h-2.74zM1427.84 1298.9h2.74v20.2h-2.74zM1430.58 1301.6h2.74v15.7h-2.74zM1433.32 1294.6h2.74v21.2h-2.74zM1436.06 1297.1h2.74v13.2h-2.74zM1438.80 1291.7h2.74v18.4h-2.74zM1441.54 1287.1h2.74v22.5h-2.74zM1444.28 1286.2h2.74v26.7h-2.74zM1447.02 1285.1h2.74v24.7h-2.74zM1449.76 1286.9h2.74v24.1h-2.74zM1452.50 1279.7h2.74v27.8h-2.74zM1455.24 1285.5h2.74v20.0h-2.74zM1457.98 1281.5h2.74v33.7h-2.74zM1460.72 1276.2h2.74v27.9h-2.74zM1463.46 1272.7h2.74v34.0h-2.74zM1466.20 1279.2h2.74v26.0h-2.74zM1468.94 1272.5h2.74v27.7h-2.74zM1471.68 1266.2h2.74v28.4h-2.74zM1474.42 1267.6h2.74v23.8h-2.74zM1477.16 1270.4h2.74v23.3h-2.74zM1479.90 1268.1h2.74v29.0h-2.74zM1482.64 1268.2h2.74v22.0h-2.74zM1485.38 1262.8h2.74v22.1h-2.74zM1488.12 1257.6h2.74v25.4h-2.74zM1490.86 1261.7h2.74v29.7h-2.74zM1493.60 1245.8h2.74v32.6h-2.74zM1496.34 1251.1h2.74v30.8h-2.74zM1499.08 1253.5h2.74v30.9h-2.74zM1501.82 1249.5h2.74v32.4h-2.74zM1504.56 1255.5h2.74v20.6h-2.74zM1507.30 1253.7h2.74v25.8h-2.74zM1510.04 1255.5h2.74v18.0h-2.74zM1512.78 1255.2h2.74v12.4h-2.74zM1515.52 1252.0h2.74v16.5h-2.74zM1518.26 1241.4h2.74v24.6h-2.74zM1521.00 1241.4h2.74v23.3h-2.74zM1523.74 1242.1h2.74v27.3h-2.74zM1526.48 1252.2h2.74v12.1h-2.74zM1529.22 1248.9h2.74v16.8h-2.74zM1531.96 1247.9h2.74v23.9h-2.74zM1534.70 1237.6h2.74v28.2h-2.74zM1537.44 1247.1h2.74v18.3h-2.74zM1540.18 1247.2h2.74v19.8h-2.74zM1542.92 1240.4h2.74v15.2h-2.74zM1545.66 1247.8h2.74v19.2h-2.74zM1548.40 1246.8h2.74v22.3h-2.74zM1551.14 1244.0h2.74v21.3h-2.74zM1553.88 1245.3h2.74v16.1h-2.74zM1556.62 1244.8h2.74v28.2h-2.74zM1559.36 1245.6h2.74v18.5h-2.74zM1562.10 1233.7h2.74v32.6h-2.74zM1564.84 1247.0h2.74v17.6h-2.74zM1567.58 1231.7h2.74v34.1h-2.74zM1570.32 1236.1h2.74v17.2h-2.74zM1573.06 1238.7h2.74v33.7h-2.74zM1575.80 1238.0h2.74v21.9h-2.74zM1578.54 1242.6h2.74v20.0h-2.74zM1581.28 1243.9h2.74v21.0h-2.74zM1584.02 1237.7h2.74v17.4h-2.74zM1586.76 1236.0h2.74v17.4h-2.74zM1589.50 1242.1h2.74v21.5h-2.74zM1592.24 1238.3h2.74v16.1h-2.74zM1594.98 1236.2h2.74v22.0h-2.74zM1597.72 1238.5h2.74v18.7h-2.74zM1600.46 1240.1h2.74v19.4h-2.74zM1603.20 1239.0h2.74v18.8h-2.74zM1605.94 1242.8h2.74v24.9h-2.74zM1608.68 1239.4h2.74v17.3h-2.74zM1611.42 1237.8h2.74v22.6h-2.74zM1614.16 1243.1h2.74v14.8h-2.74zM1616.90 1237.2h2.74v14.0h-2.74zM1619.64 1231.9h2.74v24.3h-2.74zM1622.38 1243.7h2.74v15.0h-2.74zM1625.12 1234.7h2.74v25.6h-2.74zM1627.86 1234.5h2.74v18.8h-2.74zM1630.60 1239.1h2.74v15.3h-2.74zM1633.34 1243.1h2.74v12.0h-2.74zM1636.08 1235.7h2.74v19.7h-2.74zM1638.82 1232.7h2.74v16.4h-2.74zM1641.56 1235.6h2.74v16.9h-2.74zM1644.30 1230.1h2.74v34.1h-2.74zM1647.04 1239.4h2.74v21.1h-2.74zM1649.78 1245.0h2.74v14.6h-2.74zM1652.52 1234.9h2.74v24.4h-2.74zM1655.26 1236.7h2.74v16.1h-2.74zM1658.00 1235.0h2.74v23.1h-2.74zM1660.74 1240.1h2.74v16.6h-2.74zM1663.48 1240.6h2.74v19.1h-2.74zM1666.22 1241.7h2.74v16.8h-2.74zM1668.96 1242.8h2.74v19.4h-2.74zM1671.70 1250.4h2.74v19.1h-2.74zM1674.44 1248.5h2.74v23.2h-2.74zM1677.18 1256.7h2.74v16.1h-2.74zM1679.92 1254.5h2.74v27.5h-2.74zM1682.66 1249.5h2.74v41.5h-2.74zM1685.40 1254.7h2.74v33.7h-2.74zM1688.14 1274.3h2.74v16.6h-2.74zM1690.88 1252.2h2.74v30.4h-2.74zM1693.62 1264.7h2.74v24.3h-2.74zM1696.36 1270.3h2.74v26.1h-2.74zM1699.10 1275.5h2.74v13.4h-2.74zM1701.84 1280.1h2.74v27.2h-2.74zM1704.58 1274.0h2.74v23.0h-2.74zM1707.32 1283.9h2.74v14.5h-2.74zM1710.06 1290.1h2.74v17.9h-2.74zM1712.80 1290.7h2.74v22.8h-2.74zM1715.54 1296.4h2.74v19.2h-2.74zM1718.28 1294.9h2.74v14.1h-2.74zM1721.02 1291.2h2.74v22.5h-2.74zM1723.76 1292.9h2.74v29.4h-2.74zM1726.50 1306.1h2.74v23.2h-2.74zM1729.24 1306.0h2.74v18.0h-2.74zM1731.98 1309.9h2.74v17.0h-2.74zM1734.72 1298.4h2.74v35.0h-2.74zM1737.46 1310.3h2.74v23.7h-2.74zM1740.20 1309.1h2.74v29.1h-2.74zM1742.94 1320.5h2.74v14.7h-2.74zM1745.68 1302.3h2.74v36.4h-2.74zM1748.42 1314.9h2.74v25.8h-2.74zM1751.16 1320.8h2.74v18.8h-2.74zM1753.90 1320.6h2.74v22.3h-2.74zM1756.64 1323.0h2.74v19.1h-2.74zM1759.38 1320.7h2.74v26.0h-2.74zM1762.12 1321.6h2.74v24.2h-2.74zM1764.86 1325.4h2.74v27.9h-2.74zM1767.60 1323.6h2.74v30.0h-2.74zM1770.34 1328.2h2.74v26.8h-2.74zM1773.08 1338.1h2.74v14.8h-2.74zM1775.82 1334.7h2.74v17.4h-2.74zM1778.56 1333.4h2.74v28.8h-2.74zM1781.30 1335.4h2.74v17.6h-2.74zM1784.04 1335.4h2.74v17.7h-2.74zM1786.78 1325.5h2.74v41.6h-2.74zM1789.52 1336.6h2.74v24.2h-2.74zM1792.26 1332.5h2.74v31.6h-2.74zM1795.00 1344.0h2.74v25.1h-2.74zM1797.74 1344.8h2.74v27.0h-2.74zM1800.48 1344.3h2.74v18.9h-2.74zM1803.22 1346.1h2.74v18.5h-2.74zM1805.96 1347.2h2.74v26.8h-2.74zM1808.70 1350.2h2.74v28.3h-2.74zM1811.44 1348.9h2.74v19.9h-2.74zM1814.18 1358.8h2.74v24.8h-2.74zM1816.92 1363.3h2.74v15.7h-2.74zM1819.66 1363.2h2.74v13.5h-2.74zM1822.40 1365.5h2.74v19.4h-2.74zM1825.14 1361.3h2.74v23.0h-2.74zM1827.88 1370.6h2.74v13.4h-2.74zM1830.62 1364.9h2.74v23.4h-2.74zM1833.36 1368.3h2.74v21.9h-2.74zM1836.10 1370.6h2.74v14.9h-2.74zM1838.84 1372.6h2.74v16.3h-2.74zM1841.58 1367.8h2.74v22.4h-2.74zM1844.32 1369.7h2.74v28.3h-2.74zM1847.06 1365.7h2.74v37.6h-2.74zM1849.80 1372.6h2.74v22.3h-2.74zM1852.54 1368.8h2.74v38.1h-2.74zM1855.28 1368.1h2.74v23.5h-2.74zM1858.02 1369.1h2.74v32.8h-2.74zM1860.76 1373.5h2.74v25.0h-2.74zM1863.50 1368.0h2.74v38.7h-2.74zM1866.24 1372.8h2.74v25.8h-2.74zM1868.98 1379.8h2.74v25.5h-2.74zM1871.72 1375.5h2.74v28.0h-2.74zM1874.46 1377.6h2.74v27.4h-2.74zM1877.20 1380.2h2.74v27.7h-2.74zM1879.94 1376.2h2.74v19.6h-2.74zM1882.68 1382.7h2.74v16.5h-2.74zM1885.42 1367.3h2.74v32.5h-2.74zM1888.16 1366.3h2.74v25.0h-2.74zM1890.90 1380.1h2.74v23.5h-2.74zM1893.64 1382.3h2.74v20.4h-2.74zM1896.38 1387.9h2.74v10.3h-2.74zM1899.12 1379.8h2.74v27.1h-2.74zM1901.86 1383.7h2.74v22.6h-2.74zM1904.60 1386.2h2.74v16.4h-2.74zM1907.34 1375.2h2.74v26.5h-2.74zM1910.08 1386.2h2.74v15.6h-2.74zM1912.82 1393.1h2.74v18.1h-2.74zM1915.56 1384.5h2.74v20.2h-2.74zM1918.30 1377.6h2.74v32.3h-2.74zM1921.04 1393.3h2.74v8.8h-2.74zM1923.78 1381.5h2.74v22.9h-2.74zM1926.52 1387.8h2.74v26.9h-2.74zM1929.26 1385.6h2.74v21.0h-2.74zM1932.00 1386.2h2.74v20.4h-2.74zM1934.74 1382.2h2.74v22.8h-2.74zM1937.48 1381.4h2.74v30.0h-2.74zM1940.22 1385.1h2.74v29.1h-2.74zM1942.96 1390.8h2.74v21.6h-2.74zM1945.70 1386.0h2.74v23.7h-2.74zM1948.44 1387.7h2.74v19.6h-2.74z"/>
<path fill="#00f" d="M200.32 1529.8h2.74v25.5h-2.74zM203.06 1527.6h2.74v34.4h-2.74zM205.80 1538.8h2.74v15.1h-2.74zM208.54 1542.4h2.74v10.9h-2.74zM211.28 1542.8h2.74v16.2h-2.74zM214.02 1542.2h2.74v16.4h-2.74zM216.76 1534.3h2.74v22.4h-2.74zM219.50 1533.1h2.74v23.6h-2.74zM222.24 1543.7h2.74v17.8h-2.74zM224.98 1546.0h2.74v19.6h-2.74zM227.72 1540.0h2.74v19.4h-2.74zM230.46 1543.6h2.74v17.2h-2.74zM233.20 1543.8h2.74v19.6h-2.74zM235.94 1549.2h2.74v17.2h-2.74zM238.68 1547.8h2.74v20.4h-2.74zM241.42 1553.0h2.74v13.1h-2.74zM244.16 1550.3h2.74v25.1h-2.74zM246.90 1549.6h2.74v18.3h-2.74zM249.64 1556.5h2.74v10.8h-2.74zM252.38 1554.6h2.74v12.1h-2.74zM255.12 1549.3h2.74v25.6h-2.74zM257.86 1548.4h2.74v27.1h-2.74zM260.60 1553.4h2.74v19.9h-2.74zM263.34 1558.5h2.74v13.7h-2.74zM266.08 1554.7h2.74v16.6h-2.74zM268.82 1555.7h2.74v12.2h-2.74zM271.56 1554.0h2.74v22.0h-2.74zM274.30 1559.2h2.74v9.5h-2.74zM277.04 1553.4h2.74v12.2h-2.74zM279.78 1556.8h2.74v12.3h-2.74zM282.52 1551.2h2.74v22.0h-2.74zM285.26 1560.2h2.74v12.9h-2.74zM288.00 1558.7h2.74v17.1h-2.74zM290.74 1559.6h2.74v16.3h-2.74zM293.48 1558.4h2.74v15.1h-2.74zM296.22 1556.1h2.74v14.8h-2.74zM298.96 1561.8h2.74v12.0h-2.74zM301.70 1553.6h2.74v16.2h-2.74zM304.44 1557.9h2.74v13.6h-2.74zM307.18 1558.3h2.74v8.1h-2.74zM309.92 1551.7h2.74v19.8h-2.74zM312.66 1552.5h2.74v19.5h-2.74zM315.40 1553.2h2.74v15.3h-2.74zM318.14 1555.6h2.74v13.6h-2.74zM320.88 1556.3h2.74v17.4h-2.74zM323.62 1558.1h2.74v18.0h-2.74zM326.36 1558.2h2.74v17.6h-2.74zM329.10 1555.1h2.74v18.2h-2.74zM331.84 1556.8h2.74v13.8h-2.74zM334.58 1560.0h2.74v10.0h-2.74zM337.32 1558.8h2.74v15.1h-2.74zM340.06 1552.1h2.74v18.8h-2.74zM342.80 1557.0h2.74v15.3h-2.74zM345.54 1553.9h2.74v20.5h-2.74zM348.28 1546.5h2.74v24.0h-2.74zM351.02 1554.0h2.74v14.0h-2.74zM353.76 1556.5h2.74v18.9h-2.74zM356.50 1556.4h2.74v14.8h-2.74zM359.24 1557.1h2.74v12.6h-2.74zM361.98 1555.7h2.74v15.2h-2.74zM364.72 1560.5h2.74v21.0h-2.74zM367.46 1549.4h2.74v23.9h-2.74zM370.20 1558.3h2.74v17.3h-2.74zM372.94 1558.9h2.74v16.4h-2.74zM375.68 1560.4h2.74v19.3h-2.74zM378.42 1560.1h2.74v12.3h-2.74zM381.16 1552.7h2.74v21.8h-2.74zM383.90 1552.3h2.74v24.2h-2.74zM386.64 1559.4h2.74v15.8h-2.74zM389.38 1562.9h2.74v14.9h-2.74zM392.12 1564.2h2.74v12.3h-2.74zM394.86 1556.9h2.74v19.6h-2.74zM397.60 1562.1h2.74v15.4h-2.74zM400.34 1560.0h2.74v18.5h-2.74zM403.08 1562.3h2.74v22.4h-2.74zM405.82 1565.1h2.74v18.2h-2.74zM408.56 1559.7h2.74v21.2h-2.74zM411.30 1567.9h2.74v14.5h-2.74zM414.04 1565.9h2.74v15.0h-2.74zM416.78 1565.4h2.74v13.6h-2.74zM419.52 1557.5h2.74v23.1h-2.74zM422.26 1562.2h2.74v18.0h-2.74zM425.00 1569.5h2.74v12.8h-2.74zM427.74 1570.5h2.74v13.1h-2.74zM430.48 1569.9h2.74v11.7h-2.74zM433.22 1571.2h2.74v18.8h-2.74zM435.96 1562.6h2.74v19.0h-2.74zM438.70 1566.1h2.74v16.8h-2.74zM441.44 1566.9h2.74v16.1h-2.74zM444.18 1569.5h2.74v16.0h-2.74zM446.92 1574.1h2.74v12.4h-2.74zM449.66 1567.9h2.74v18.0h-2.74zM452.40 1572.5h2.74v13.7h-2.74zM455.14 1571.7h2.74v15.7h-2.74zM457.88 1568.1h2.74v13.3h-2.74zM460.62 1569.5h2.74v11.2h-2.74zM463.36 1569.0h2.74v24.0h-2.74zM466.10 1567.6h2.74v16.4h-2.74zM468.84 1572.1h2.74v17.5h-2.74zM471.58 1566.3h2.74v19.1h-2.74zM474.32 1569.0h2.74v12.9h-2.74zM477.06 1564.9h2.74v18.8h-2.74zM479.80 1557.6h2.74v27.9h-2.74zM482.54 1558.4h2.74v23.8h-2.74zM485.28 1568.4h2.74v12.4h-2.74zM488.02 1565.3h2.74v23.8h-2.74zM490.76 1562.0h2.74v19.8h-2.74zM493.50 1566.9h2.74v15.7h-2.74zM496.24 1567.2h2.74v16.7h-2.74zM498.98 1568.2h2.74v13.9h-2.74zM501.72 1567.6h2.74v16.3h-2.74zM504.46 1562.8h2.74v16.2h-2.74zM507.20 1571.1h2.74v17.0h-2.74zM509.94 1559.5h2.74v22.5h-2.74zM512.68 1564.8h2.74v14.3h-2.74zM515.42 1566.5h2.74v22.3h-2.74zM518.16 1565.7h2.74v18.9h-2.74zM520.90 1563.4h2.74v15.3h-2.74zM523.64 1562.0h2.74v13.4h-2.74zM526.38 1564.3h2.74v9.2h-2.74zM529.12 1561.7h2.74v18.6h-2.74zM531.86 1557.2h2.74v21.9h-2.74zM534.60 1562.6h2.74v15.9h-2.74zM537.34 1565.8h2.74v17.1h-2.74zM540.08 1561.3h2.74v17.1h-2.74zM542.82 1558.6h2.74v15.6h-2.74zM545.56 1558.9h2.74v14.6h-2.74zM548.30 1554.4h2.74v23.5h-2.74zM551.04 1555.7h2.74v19.8h-2.74zM553.78 1556.2h2.74v15.0h-2.74zM556.52 1550.0h2.74v26.9h-2.74zM559.26 1556.3h2.74v22.0h-2.74zM562.00 1557.4h2.74v17.2h-2.74zM564.74 1556.6h2.74v15.4h-2.74zM567.48 1560.4h2.74v11.6h-2.74zM570.22 1558.3h2.74v12.9h-2.74zM572.96 1554.7h2.74v19.4h-2.74zM575.70 1555.0h2.74v18.2h-2.74zM578.44 1556.1h2.74v18.0h-2.74zM581.18 1553.1h2.74v20.8h-2.74zM583.92 1551.1h2.74v22.7h-2.74zM586.66 1550.2h2.74v25.1h-2.74zM589.40 1552.7h2.74v16.0h-2.74zM592.14 1552.5h2.74v18.8h-2.74zM594.88 1557.8h2.74v9.6h-2.74zM597.62 1545.5h2.74v19.5h-2.74zM600.36 1557.8h2.74v11.8h-2.74zM603.10 1555.9h2.74v14.8h-2.74zM605.84 1553.8h2.74v14.3h-2.74zM608.58 1553.3h2.74v18.8h-2.74zM611.32 1550.7h2.74v22.7h-2.74zM614.06 1550.2h2.74v19.8h-2.74zM616.80 1549.7h2.74v19.9h-2.74zM619.54 1548.2h2.74v13.5h-2.74zM622.28 1554.1h2.74v14.6h-2.74zM625.02 1550.2h2.74v14.9h-2.74zM627.76 1548.8h2.74v14.4h-2.74zM630.50 1550.9h2.74v14.6h-2.74zM633.24 1542.2h2.74v21.1h-2.74zM635.98 1543.6h2.74v16.4h-2.74zM638.72 1541.6h2.74v15.1h-2.74zM641.46 1540.2h2.74v15.9h-2.74zM644.20 1534.3h2.74v21.0h-2.74zM646.94 1541.2h2.74v11.4h-2.74zM649.68 1534.2h2.74v18.9h-2.74zM652.42 1531.4h2.74v17.1h-2.74zM655.16 1531.2h2.74v18.6h-2.74zM657.90 1532.1h2.74v17.9h-2.74zM660.64 1518.6h2.74v23.0h-2.74zM663.38 1526.3h2.74v19.8h-2.74zM666.12 1527.4h2.74v9.7h-2.74zM668.86 1521.0h2.74v28.1h-2.74zM671.60 1524.2h2.74v14.8h-2.74zM674.34 1520.6h2.74v17.2h-2.74zM677.08 1515.5h2.74v15.9h-2.74zM679.82 1516.2h2.74v17.7h-2.74zM682.56 1512.4h2.74v18.6h-2.74zM685.30 1505.8h2.74v20.1h-2.74zM688.04 1505.6h2.74v18.9h-2.74zM690.78 1504.2h2.74v13.5h-2.74zM693.52 1496.8h2.74v17.2h-2.74zM696.26 1490.4h2.74v30.0h-2.74zM699.00 1480.7h2.74v25.8h-2.74zM701.74 1479.7h2.74v21.9h-2.74zM704.48 1481.5h2.74v11.0h-2.74zM707.22 1478.3h2.74v16.8h-2.74zM709.96 1473.7h2.74v16.0h-2.74zM712.70 1463.8h2.74v19.3h-2.74zM715.44 1459.7h2.74v17.5h-2.74zM718.18 1463.6h2.74v12.1h-2.74zM720.92 1453.8h2.74v14.3h-2.74zM723.66 1442.6h2.74v17.6h-2.74zM726.40 1434.4h2.74v24.2h-2.74zM729.14 1437.6h2.74v12.7h-2.74zM731.88 1423.4h2.74v19.8h-2.74zM734.62 1420.0h2.74v17.7h-2.74zM737.36 1408.0h2.74v16.8h-2.74zM740.10 1408.7h2.74v20.1h-2.74zM742.84 1394.8h2.74v21.4h-2.74zM745.58 1382.4h2.74v21.2h-2.74zM748.32 1367.3h2.74v25.5h-2.74zM751.06 1359.1h2.74v25.0h-2.74zM753.80 1354.8h2.74v17.3h-2.74zM756.54 1352.6h2.74v20.3h-2.74zM759.28 1343.2h2.74v18.5h-2.74zM762.02 1330.6h2.74v23.8h-2.74zM764.76 1319.2h2.74v21.6h-2.74zM767.50 1318.0h2.74v12.5h-2.74zM770.24 1300.7h2.74v27.2h-2.74zM772.98 1292.9h2.74v25.7h-2.74zM775.72 1284.2h2.74v24.3h-2.74zM778.46 1275.1h2.74v24.1h-2.74zM781.20 1256.6h2.74v29.8h-2.74zM783.94 1247.9h2.74v13.9h-2.74zM786.68 1232.3h2.74v26.1h-2.74zM789.42 1220.6h2.74v17.3h-2.74zM792.16 1197.8h2.74v27.4h-2.74zM794.90 1164.6h2.74v37.7h-2.74zM797.64 1150.1h2.74v19.0h-2.74zM800.38 1119.4h2.74v37.4h-2.74zM803.12 1099.3h2.74v24.6h-2.74zM805.86 1059.4h2.74v44.4h-2.74zM808.60 1024.1h2.74v44.9h-2.74zM811.34 988.9h2.74v39.7h-2.74zM814.08 959.3h2.74v39.9h-2.74zM816.82 925.6h2.74v38.2h-2.74zM819.56 912.9h2.74v22.6h-2.74zM822.30 897.0h2.74v29.2h-2.74zM825.04 863.1h2.74v38.5h-2.74zM827.78 832.0h2.74v38.5h-2.74zM830.52 815.4h2.74v26.9h-2.74zM833.26 797.1h2.74v22.8h-2.74zM836.00 801.4h2.74v35.7h-2.74zM838.74 829.9h2.74v17.2h-2.74zM841.48 828.6h2.74v23.8h-2.74zM844.22 829.9h2.74v17.2h-2.74zM846.96 833.8h2.74v31.3h-2.74zM849.70 856.5h2.74v69.2h-2.74zM852.44 921.2h2.74v21.1h-2.74zM855.18 935.7h2.74v50.5h-2.74zM857.92 979.3h2.74v31.2h-2.74zM860.66 1003.6h2.74v41.6h-2.74zM863.40 1032.3h2.74v35.6h-2.74zM866.14 1052.3h2.74v28.8h-2.74zM868.88 1076.6h2.74v27.6h-2.74zM871.62 1099.7h2.74v38.0h-2.74zM874.36 1132.1h2.74v19.9h-2.74zM877.10 1147.5h2.74v20.9h-2.74zM879.84 1163.9h2.74v22.1h-2.74zM882.58 1172.4h2.74v25.3h-2.74zM885.32 1193.2h2.74v23.5h-2.74zM888.06 1208.3h2.74v24.4h-2.74zM890.80 1213.2h2.74v22.1h-2.74zM893.54 1216.4h2.74v33.7h-2.74zM896.28 1228.1h2.74v12.6h-2.74zM899.02 1211.7h2.74v35.5h-2.74zM901.76 1225.0h2.74v17.2h-2.74zM904.50 1226.0h2.74v26.7h-2.74zM907.24 1235.1h2.74v23.9h-2.74zM909.98 1236.4h2.74v11.9h-2.74zM912.72 1232.8h2.74v24.7h-2.74zM915.46 1223.7h2.74v24.2h-2.74zM918.20 1219.7h2.74v33.1h-2.74zM920.94 1212.9h2.74v23.1h-2.74zM923.68 1220.7h2.74v26.4h-2.74zM926.42 1198.2h2.74v34.9h-2.74zM929.16 1205.1h2.74v18.5h-2.74zM931.90 1191.9h2.74v23.8h-2.74zM934.64 1175.9h2.74v30.8h-2.74zM937.38 1172.6h2.74v22.8h-2.74zM940.12 1144.3h2.74v34.7h-2.74zM942.86 1105.1h2.74v43.7h-2.74zM945.60 1071.8h2.74v38.2h-2.74zM948.34 1033.5h2.74v42.8h-2.74zM951.08 1007.7h2.74v30.4h-2.74zM953.82 955.1h2.74v57.4h-2.74zM956.56 914.9h2.74v47.2h-2.74zM959.30 871.3h2.74v48.1h-2.74zM962.04 820.1h2.74v57.3h-2.74zM964.78 796.1h2.74v28.5h-2.74zM967.52 761.4h2.74v39.2h-2.74zM970.26 771.3h2.74v24.1h-2.74zM973.00 790.9h2.74v69.5h-2.74zM975.74 855.9h2.74v49.9h-2.74zM978.48 901.3h2.74v67.3h-2.74zM981.22 964.2h2.74v81.1h-2.74zM983.96 1040.7h2.74v87.9h-2.74zM986.70 1124.1h2.74v75.9h-2.74zM989.44 1195.5h2.74v53.0h-2.74zM992.18 1243.9h2.74v55.6h-2.74zM994.92 1295.1h2.74v47.7h-2.74zM997.66 1338.3h2.74v39.9h-2.74zM1000.40 1370.4h2.74v44.2h-2.74zM1003.14 1396.2h2.74v35.3h-2.74zM1005.88 1426.4h2.74v25.1h-2.74zM1008.62 1435.2h2.74v25.3h-2.74zM1011.36 1449.6h2.74v25.3h-2.74zM1014.10 1463.0h2.74v18.7h-2.74zM1016.84 1470.9h2.74v20.9h-2.74zM1019.58 1477.6h2.74v13.4h-2.74zM1022.32 1481.6h2.74v22.6h-2.74zM1025.06 1481.9h2.74v25.0h-2.74zM1027.80 1483.5h2.74v21.0h-2.74zM1030.54 1493.4h2.74v22.2h-2.74zM1033.28 1503.2h2.74v17.2h-2.74zM1036.02 1491.7h2.74v20.9h-2.74zM1038.76 1502.5h2.74v16.8h-2.74zM1041.50 1494.1h2.74v28.7h-2.74zM1044.24 1505.4h2.74v18.8h-2.74zM1046.98 1511.1h2.74v18.7h-2.74zM1049.72 1510.2h2.74v15.8h-2.74zM1052.46 1509.3h2.74v19.9h-2.74zM1055.20 1508.0h2.74v12.9h-2.74zM1057.94 1505.9h2.74v27.1h-2.74zM1060.68 1514.0h2.74v12.9h-2.74zM1063.42 1517.7h2.74v13.5h-2.74zM1066.16 1516.7h2.74v17.6h-2.74zM1068.90 1523.7h2.74v18.4h-2.74zM1071.64 1519.0h2.74v18.1h-2.74zM1074.38 1517.6h2.74v19.8h-2.74zM1077.12 1521.1h2.74v15.7h-2.74zM1079.86 1520.8h2.74v18.8h-2.74zM1082.60 1524.6h2.74v16.6h-2.74zM1085.34 1523.6h2.74v20.6h-2.74zM1088.08 1525.4h2.74v13.4h-2.74zM1090.82 1520.9h2.74v20.0h-2.74zM1093.56 1521.0h2.74v23.0h-2.74zM1096.30 1520.9h2.74v18.4h-2.74zM1099.04 1513.0h2.74v34.4h-2.74zM1101.78 1524.6h2.74v14.5h-2.74zM1104.52 1521.0h2.74v16.2h-2.74zM1107.26 1527.6h2.74v27.0h-2.74zM1110.00 1533.5h2.74v15.2h-2.74zM1112.74 1527.0h2.74v18.0h-2.74zM1115.48 1527.9h2.74v11.9h-2.74zM1118.22 1523.1h2.74v27.9h-2.74zM1120.96 1527.3h2.74v21.7h-2.74zM1123.70 1516.9h2.74v32.7h-2.74zM1126.44 1524.7h2.74v25.0h-2.74zM1129.18 1529.0h2.74v15.8h-2.74zM1131.92 1530.0h2.74v20.5h-2.74zM1134.66 1529.7h2.74v16.3h-2.74zM1137.40 1529.4h2.74v18.5h-2.74zM1140.14 1524.5h2.74v18.0h-2.74zM1142.88 1529.3h2.74v26.6h-2.74zM1145.62 1523.7h2.74v24.2h-2.74zM1148.36 1531.5h2.74v15.6h-2.74zM1151.10 1531.8h2.74v14.5h-2.74zM1153.84 1530.3h2.74v19.8h-2.74zM1156.58 1519.6h2.74v28.9h-2.74zM1159.32 1515.7h2.74v31.7h-2.74zM1162.06 1529.5h2.74v17.0h-2.74zM1164.80 1521.3h2.74v23.5h-2.74zM1167.54 1528.7h2.74v15.5h-2.74zM1170.28 1526.5h2.74v20.0h-2.74zM1173.02 1536.2h2.74v13.4h-2.74zM1175.76 1528.3h2.74v22.9h-2.74zM1178.50 1531.9h2.74v18.4h-2.74zM1181.24 1531.0h2.74v29.6h-2.74zM1183.98 1523.0h2.74v38.5h-2.74zM1186.72 1530.1h2.74v19.6h-2.74zM1189.46 1530.1h2.74v15.9h-2.74zM1192.20 1535.5h2.74v15.1h-2.74zM1194.94 1533.0h2.74v20.1h-2.74zM1197.68 1530.3h2.74v23.9h-2.74zM1200.42 1530.5h2.74v15.7h-2.74zM1203.16 1532.0h2.74v20.2h-2.74zM1205.90 1533.5h2.74v20.4h-2.74zM1208.64 1526.7h2.74v19.6h-2.74zM1211.38 1536.5h2.74v14.5h-2.74zM1214.12 1537.0h2.74v18.1h-2.74zM1216.86 1535.6h2.74v15.6h-2.74zM1219.60 1540.8h2.74v17.0h-2.74zM1222.34 1538.0h2.74v12.4h-2.74zM1225.08 1538.7h2.74v14.1h-2.74zM1227.82 1535.0h2.74v19.0h-2.74zM1230.56 1533.4h2.74v30.9h-2.74zM1233.30 1536.2h2.74v12.8h-2.74zM1236.04 1535.0h2.74v17.5h-2.74zM1238.78 1525.7h2.74v27.3h-2.74zM1241.52 1525.8h2.74v19.6h-2.74zM1244.26 1540.9h2.74v12.5h-2.74zM1247.00 1533.5h2.74v18.5h-2.74zM1249.74 1526.7h2.74v23.5h-2.74zM1252.48 1527.6h2.74v21.3h-2.74zM1255.22 1530.4h2.74v21.0h-2.74zM1257.96 1536.1h2.74v18.5h-2.74zM1260.70 1538.9h2.74v14.1h-2.74zM1263.44 1536.4h2.74v28.1h-2.74zM1266.18 1537.5h2.74v14.9h-2.74zM1268.92 1534.5h2.74v23.9h-2.74zM1271.66 1540.6h2.74v25.4h-2.74zM1274.40 1525.9h2.74v32.7h-2.74zM1277.14 1531.4h2.74v27.1h-2.74zM1279.88 1536.8h2.74v14.3h-2.74zM1282.62 1534.2h2.74v18.0h-2.74zM1285.36 1533.4h2.74v16.8h-2.74zM1288.10 1528.7h2.74v20.0h-2.74zM1290.84 1529.5h2.74v14.1h-2.74zM1293.58 1529.1h2.74v18.5h-2.74zM1296.32 1534.4h2.74v11.1h-2.74zM1299.06 1525.5h2.74v20.8h-2.74zM1301.80 1530.3h2.74v12.8h-2.74zM1304.54 1524.5h2.74v28.4h-2.74zM1307.28 1516.0h2.74v33.3h-2.74zM1310.02 1532.9h2.74v20.4h-2.74zM1312.76 1525.5h2.74v25.3h-2.74zM1315.50 1525.5h2.74v35.1h-2.74zM1318.24 1531.7h2.74v20.0h-2.74zM1320.98 1532.5h2.74v17.8h-2.74zM1323.72 1530.7h2.74v17.6h-2.74zM1326.46 1530.3h2.74v13.1h-2.74zM1329.20 1519.2h2.74v24.8h-2.74zM1331.94 1516.8h2.74v22.2h-2.74zM1334.68 1518.6h2.74v26.5h-2.74zM1337.42 1526.9h2.74v14.5h-2.74zM1340.16 1518.0h2.74v30.4h-2.74zM1342.90 1517.0h2.74v24.8h-2.74zM1345.64 1523.1h2.74v19.6h-2.74zM1348.38 1516.9h2.74v20.9h-2.74zM1351.12 1519.6h2.74v18.2h-2.74zM1353.86 1509.5h2.74v41.7h-2.74zM1356.60 1516.4h2.74v30.5h-2.74zM1359.34 1518.9h2.74v18.2h-2.74zM1362.08 1513.5h2.74v19.9h-2.74zM1364.82 1514.1h2.74v21.0h-2.74zM1367.56 1505.9h2.74v23.1h-2.74zM1370.30 1513.2h2.74v18.3h-2.74zM1373.04 1515.1h2.74v24.3h-2.74zM1375.78 1507.5h2.74v24.2h-2.74zM1378.52 1507.7h2.74v28.1h-2.74zM1381.26 1513.4h2.74v17.8h-2.74zM1384.00 1506.7h2.74v26.9h-2.74zM1386.74 1501.9h2.74v28.0h-2.74zM1389.48 1497.8h2.74v21.5h-2.74zM1392.22 1506.0h2.74v26.1h-2.74zM1394.96 1502.7h2.74v18.2h-2.74zM1397.70 1501.2h2.74v23.4h-2.74zM1400.44 1502.6h2.74v20.3h-2.74zM1403.18 1499.1h2.74v19.2h-2.74zM1405.92 1499.8h2.74v28.9h-2.74zM1408.66 1487.6h2.74v33.2h-2.74zM1411.40 1498.1h2.74v15.5h-2.74zM1414.14 1499.5h2.74v16.6h-2.74zM1416.88 1489.5h2.74v19.1h-2.74zM1419.62 1497.4h2.74v28.3h-2.74zM1422.36 1487.4h2.74v27.1h-2.74zM1425.10 1486.4h2.74v24.3h-2.74zM1427.84 1485.1h2.74v23.2h-2.74zM1430.58 1492.0h2.74v15.0h-2.74zM1433.32 1485.6h2.74v27.6h-2.74zM1436.06 1486.4h2.74v16.4h-2.74zM1438.80 1479.3h2.74v22.8h-2.74zM1441.54 1475.6h2.74v25.7h-2.74zM1444.28 1477.3h2.74v24.5h-2.74zM1447.02 1475.7h2.74v30.5h-2.74zM1449.76 1477.6h2.74v26.9h-2.74zM1452.50 1472.1h2.74v19.4h-2.74zM1455.24 1461.7h2.74v30.4h-2.74zM1457.98 1469.4h2.74v17.0h-2.74zM1460.72 1464.1h2.74v20.5h-2.74zM1463.46 1466.1h2.74v20.2h-2.74zM1466.20 1469.5h2.74v21.0h-2.74zM1468.94 1463.2h2.74v20.0h-2.74zM1471.68 1465.8h2.74v24.1h-2.74zM1474.42 1463.3h2.74v19.9h-2.74zM1477.16 1455.6h2.74v30.7h-2.74zM1479.90 1456.8h2.74v26.7h-2.74zM1482.64 1449.9h2.74v30.9h-2.74zM1485.38 1456.9h2.74v22.5h-2.74zM1488.12 1449.9h2.74v25.1h-2.74zM1490.86 1447.3h2.74v28.1h-2.74zM1493.60 1443.4h2.74v31.6h-2.74zM1496.34 1441.8h2.74v30.5h-2.74zM1499.08 1444.3h2.74v18.9h-2.74zM1501.82 1448.4h2.74v30.2h-2.74zM1504.56 1446.5h2.74v22.7h-2.74zM1507.30 1445.0h2.74v17.3h-2.74zM1510.04 1444.1h2.74v23.2h-2.74zM1512.78 1437.7h2.74v25.7h-2.74zM1515.52 1449.3h2.74v13.6h-2.74zM1518.26 1436.8h2.74v33.5h-2.74zM1521.00 1438.5h2.74v23.7h-2.74zM1523.74 1443.3h2.74v16.6h-2.74zM1526.48 1441.0h2.74v23.5h-2.74zM1529.22 1446.3h2.74v23.3h-2.74zM1531.96 1445.2h2.74v16.4h-2.74zM1534.70 1443.8h2.74v18.0h-2.74zM1537.44 1438.6h2.74v29.8h-2.74zM1540.18 1441.2h2.74v22.8h-2.74zM1542.92 1442.2h2.74v27.8h-2.74zM1545.66 1446.6h2.74v21.9h-2.74zM1548.40 1439.0h2.74v22.3h-2.74zM1551.14 1439.5h2.74v28.0h-2.74zM1553.88 1439.3h2.74v22.8h-2.74zM1556.62 1442.1h2.74v23.8h-2.74zM1559.36 1441.1h2.74v26.9h-2.74zM1562.10 1447.3h2.74v22.5h-2.74zM1564.84 1449.2h2.74v13.3h-2.74zM1567.58 1435.8h2.74v30.7h-2.74zM1570.32 1441.8h2.74v16.7h-2.74zM1573.06 1448.3h2.74v18.2h-2.74zM1575.80 1438.4h2.74v28.9h-2.74zM1578.54 1441.3h2.74v37.9h-2.74zM1581.28 1445.7h2.74v20.2h-2.74zM1584.02 1436.3h2.74v29.5h-2.74zM1586.76 1444.4h2.74v22.7h-2.74zM1589.50 1444.5h2.74v24.1h-2.74zM1592.24 1437.5h2.74v25.2h-2.74zM1594.98 1435.3h2.74v26.3h-2.74zM1597.72 1438.0h2.74v23.7h-2.74zM1600.46 1438.5h2.74v27.7h-2.74zM1603.20 1431.2h2.74v35.0h-2.74zM1605.94 1435.6h2.74v29.6h-2.74zM1608.68 1435.8h2.74v13.6h-2.74zM1611.42 1437.5h2.74v32.9h-2.74zM1614.16 1431.4h2.74v30.1h-2.74zM1616.90 1436.4h2.74v17.7h-2.74zM1619.64 1429.1h2.74v15.9h-2.74zM1622.38 1430.0h2.74v20.7h-2.74zM1625.12 1424.3h2.74v24.0h-2.74zM1627.86 1419.2h2.74v33.8h-2.74zM1630.60 1438.4h2.74v23.8h-2.74zM1633.34 1427.9h2.74v17.8h-2.74zM1636.08 1427.7h2.74v24.6h-2.74zM1638.82 1427.0h2.74v26.4h-2.74zM1641.56 1433.1h2.74v21.9h-2.74zM1644.30 1421.2h2.74v33.1h-2.74zM1647.04 1431.2h2.74v12.3h-2.74zM1649.78 1431.9h2.74v20.7h-2.74zM1652.52 1426.8h2.74v28.2h-2.74zM1655.26 1435.6h2.74v18.4h-2.74zM1658.00 1443.1h2.74v19.7h-2.74zM1660.74 1437.5h2.74v21.5h-2.74zM1663.48 1437.1h2.74v28.1h-2.74zM1666.22 1441.0h2.74v21.5h-2.74zM1668.96 1448.5h2.74v19.4h-2.74zM1671.70 1445.2h2.74v24.6h-2.74zM1674.44 1444.9h2.74v36.5h-2.74zM1677.18 1444.0h2.74v33.5h-2.74zM1679.92 1465.4h2.74v16.3h-2.74zM1682.66 1468.9h2.74v19.0h-2.74zM1685.40 1462.3h2.74v30.1h-2.74zM1688.14 1474.2h2.74v25.0h-2.74zM1690.88 1486.3h2.74v13.5h-2.74zM1693.62 1480.9h2.74v24.5h-2.74zM1696.36 1475.3h2.74v21.0h-2.74zM1699.10 1480.8h2.74v30.6h-2.74zM1701.84 1488.9h2.74v12.8h-2.74zM1704.58 1473.4h2.74v34.3h-2.74zM1707.32 1486.1h2.74v27.2h-2.74zM1710.06 1491.9h2.74v14.1h-2.74zM1712.80 1481.7h2.74v21.8h-2.74zM1715.54 1484.1h2.74v31.4h-2.74zM1718.28 1495.3h2.74v21.0h-2.74zM1721.02 1490.8h2.74v24.1h-2.74zM1723.76 1504.6h2.74v18.3h-2.74zM1726.50 1496.0h2.74v31.7h-2.74zM1729.24 1499.0h2.74v27.0h-2.74zM1731.98 1503.7h2.74v20.7h-2.74zM1734.72 1507.4h2.74v15.8h-2.74zM1737.46 1506.7h2.74v30.7h-2.74zM1740.20 1505.0h2.74v22.8h-2.74zM1742.94 1508.4h2.74v23.2h-2.74zM1745.68 1513.4h2.74v20.1h-2.74zM1748.42 1516.0h2.74v20.9h-2.74zM1751.16 1509.9h2.74v19.6h-2.74zM1753.90 1516.2h2.74v33.4h-2.74zM1756.64 1511.9h2.74v30.9h-2.74zM1759.38 1502.3h2.74v34.8h-2.74zM1762.12 1518.2h2.74v19.1h-2.74zM1764.86 1519.1h2.74v19.6h-2.74zM1767.60 1517.7h2.74v22.5h-2.74zM1770.34 1519.3h2.74v16.3h-2.74zM1773.08 1513.9h2.74v23.0h-2.74zM1775.82 1521.8h2.74v14.8h-2.74zM1778.56 1519.1h2.74v21.1h-2.74zM1781.30 1515.1h2.74v22.3h-2.74zM1784.04 1521.5h2.74v22.8h-2.74zM1786.78 1525.1h2.74v15.5h-2.74zM1789.52 1524.6h2.74v21.5h-2.74zM1792.26 1526.5h2.74v18.7h-2.74zM1795.00 1523.9h2.74v29.9h-2.74zM1797.74 1529.8h2.74v19.2h-2.74zM1800.48 1523.9h2.74v25.5h-2.74zM1803.22 1524.5h2.74v23.6h-2.74zM1805.96 1530.5h2.74v30.6h-2.74zM1808.70 1534.2h2.74v19.3h-2.74zM1811.44 1533.5h2.74v27.2h-2.74zM1814.18 1524.3h2.74v25.7h-2.74zM1816.92 1536.1h2.74v20.3h-2.74zM1819.66 1532.4h2.74v32.8h-2.74zM1822.40 1549.3h2.74v12.7h-2.74zM1825.14 1541.1h2.74v28.7h-2.74zM1827.88 1540.5h2.74v25.3h-2.74zM1830.62 1551.8h2.74v21.8h-2.74zM1833.36 1550.3h2.74v19.5h-2.74zM1836.10 1555.5h2.74v22.5h-2.74zM1838.84 1550.4h2.74v23.9h-2.74zM1841.58 1553.3h2.74v23.5h-2.74zM1844.32 1542.7h2.74v34.4h-2.74zM1847.06 1561.5h2.74v17.5h-2.74zM1849.80 1548.2h2.74v22.3h-2.74zM1852.54 1554.0h2.74v24.2h-2.74zM1855.28 1554.2h2.74v27.8h-2.74zM1858.02 1553.0h2.74v29.7h-2.74zM1860.76 1555.8h2.74v27.8h-2.74zM1863.50 1562.9h2.74v16.7h-2.74zM1866.24 1559.0h2.74v19.1h-2.74zM1868.98 1558.4h2.74v15.9h-2.74zM1871.72 1555.1h2.74v26.3h-2.74zM1874.46 1562.7h2.74v25.5h-2.74zM1877.20 1563.7h2.74v15.0h-2.74zM1879.94 1565.1h2.74v18.2h-2.74zM1882.68 1558.0h2.74v18.9h-2.74zM1885.42 1565.3h2.74v15.5h-2.74zM1888.16 1563.3h2.74v28.5h-2.74zM1890.90 1567.7h2.74v20.6h-2.74zM1893.64 1559.7h2.74v27.2h-2.74zM1896.38 1553.6h2.74v31.0h-2.74zM1899.12 1556.9h2.74v26.2h-2.74zM1901.86 1555.4h2.74v25.2h-2.74zM1904.60 1552.3h2.74v31.8h-2.74zM1907.34 1560.4h2.74v23.8h-2.74zM1910.08 1550.3h2.74v32.0h-2.74zM1912.82 1561.8h2.74v27.9h-2.74zM1915.56 1564.3h2.74v15.5h-2.74zM1918.30 1561.2h2.74v22.4h-2.74zM1921.04 1563.4h2.74v19.7h-2.74zM1923.78 1566.6h2.74v14.1h-2.74zM1926.52 1565.2h2.74v19.4h-2.74zM1929.26 1555.4h2.74v30.7h-2.74zM1932.00 1565.0h2.74v21.1h-2.74zM1934.74 1554.2h2.74v33.2h-2.74zM1937.48 1553.5h2.74v36.8h-2.74zM1940.22 1562.1h2.74v22.6h-2.74zM1942.96 1559.4h2.74v26.8h-2.74zM1945.70 1560.5h2.74v21.0h-2.74zM1948.44 1561.9h2.74v22.5h-2.74z"/>
</g>
<line x1="841" y1="252.5" x2="841" y2="1213" stroke="#ff8000" stroke-width="5.3" stroke-dasharray="40.5 37.3"/>
<line x1="967.7" y1="193.7" x2="967.7" y2="1091.6" stroke="#ff8000" stroke-width="5" stroke-dasharray="42 36"/>
<rect x="1344.4" y="102.3" width="185.4" height="4" fill="#000"/>
<rect x="1344.4" y="211.5" width="185.4" height="3.2" fill="#f00"/>
<rect x="1344.4" y="319.9" width="185.4" height="5" fill="#00f"/>
<text transform="translate(1547.8636,134) scale(0.912,1)" font-size="90" text-anchor="start" >MOF5-700</text>
<text transform="translate(1547.8636,242.6) scale(0.912,1)" font-size="90" text-anchor="start" >MOF5-750</text>
<text transform="translate(1547.8636,351.2) scale(0.912,1)" font-size="90" text-anchor="start" >MOF5-800</text>
<text transform="translate(796.22,203.6) scale(0.95,1)" font-size="89" text-anchor="start" >D</text>
<text transform="translate(934.0,170.5) scale(0.93,1)" font-size="90" text-anchor="start" >G</text>
<text transform="translate(409.0,1682) scale(0.932,1)" font-size="88.7" text-anchor="middle" >500</text>
<text transform="translate(666.0,1682) scale(0.932,1)" font-size="88.7" text-anchor="middle" >1000</text>
<text transform="translate(923.0,1682) scale(0.932,1)" font-size="88.7" text-anchor="middle" >1500</text>
<text transform="translate(1180.0,1682) scale(0.932,1)" font-size="88.7" text-anchor="middle" >2000</text>
<text transform="translate(1437.0,1682) scale(0.932,1)" font-size="88.7" text-anchor="middle" >2500</text>
<text transform="translate(1694.0,1682) scale(0.932,1)" font-size="88.7" text-anchor="middle" >3000</text>
<text transform="translate(1951.0,1682) scale(0.932,1)" font-size="88.7" text-anchor="middle" >3500</text>
<text transform="translate(729,1782.5) scale(0.926,1)" font-size="88">Raman shift <tspan font-weight="normal" font-size="79" dx="3">(</tspan>cm<tspan dy="-38" font-size="58">-1</tspan><tspan dy="38" dx="3" font-weight="normal" font-size="79">)</tspan></text>
<text transform="translate(83.7,929) rotate(-90) scale(1.063,1)" font-size="83">Intensity</text>
<text transform="translate(1415.1,733.8) scale(0.935,1)" font-size="64">I<tspan dy="15.5">D</tspan><tspan dy="-15.5">/I</tspan><tspan dy="15.5">G</tspan></text>
<text transform="translate(1580.3,733.8) scale(1.16,1)" font-size="64">=</text>
<text transform="translate(1632.8,733.8) scale(0.965,1)" font-size="64">2.77</text>
<text transform="translate(1424.1,1183.7) scale(0.93,1)" font-size="65">I<tspan dy="11.4">D</tspan><tspan dy="-11.4">/I</tspan><tspan dy="11.4">G</tspan></text>
<text transform="translate(1593.8,1183.7) scale(1.08,1)" font-size="65">=</text>
<text transform="translate(1645.6,1183.7) scale(0.915,1)" font-size="65">2.33</text>
<text transform="translate(1424.0,1398.4) scale(0.94,1)" font-size="66">I<tspan dy="13.5">D</tspan><tspan dy="-13.5">/I</tspan><tspan dy="13.5">G</tspan></text>
<text transform="translate(1593.5,1398.4) scale(1.15,1)" font-size="66">=</text>
<text transform="translate(1646.5,1398.4) scale(0.94,1)" font-size="66">2.12</text>
</g></svg></body></html>
